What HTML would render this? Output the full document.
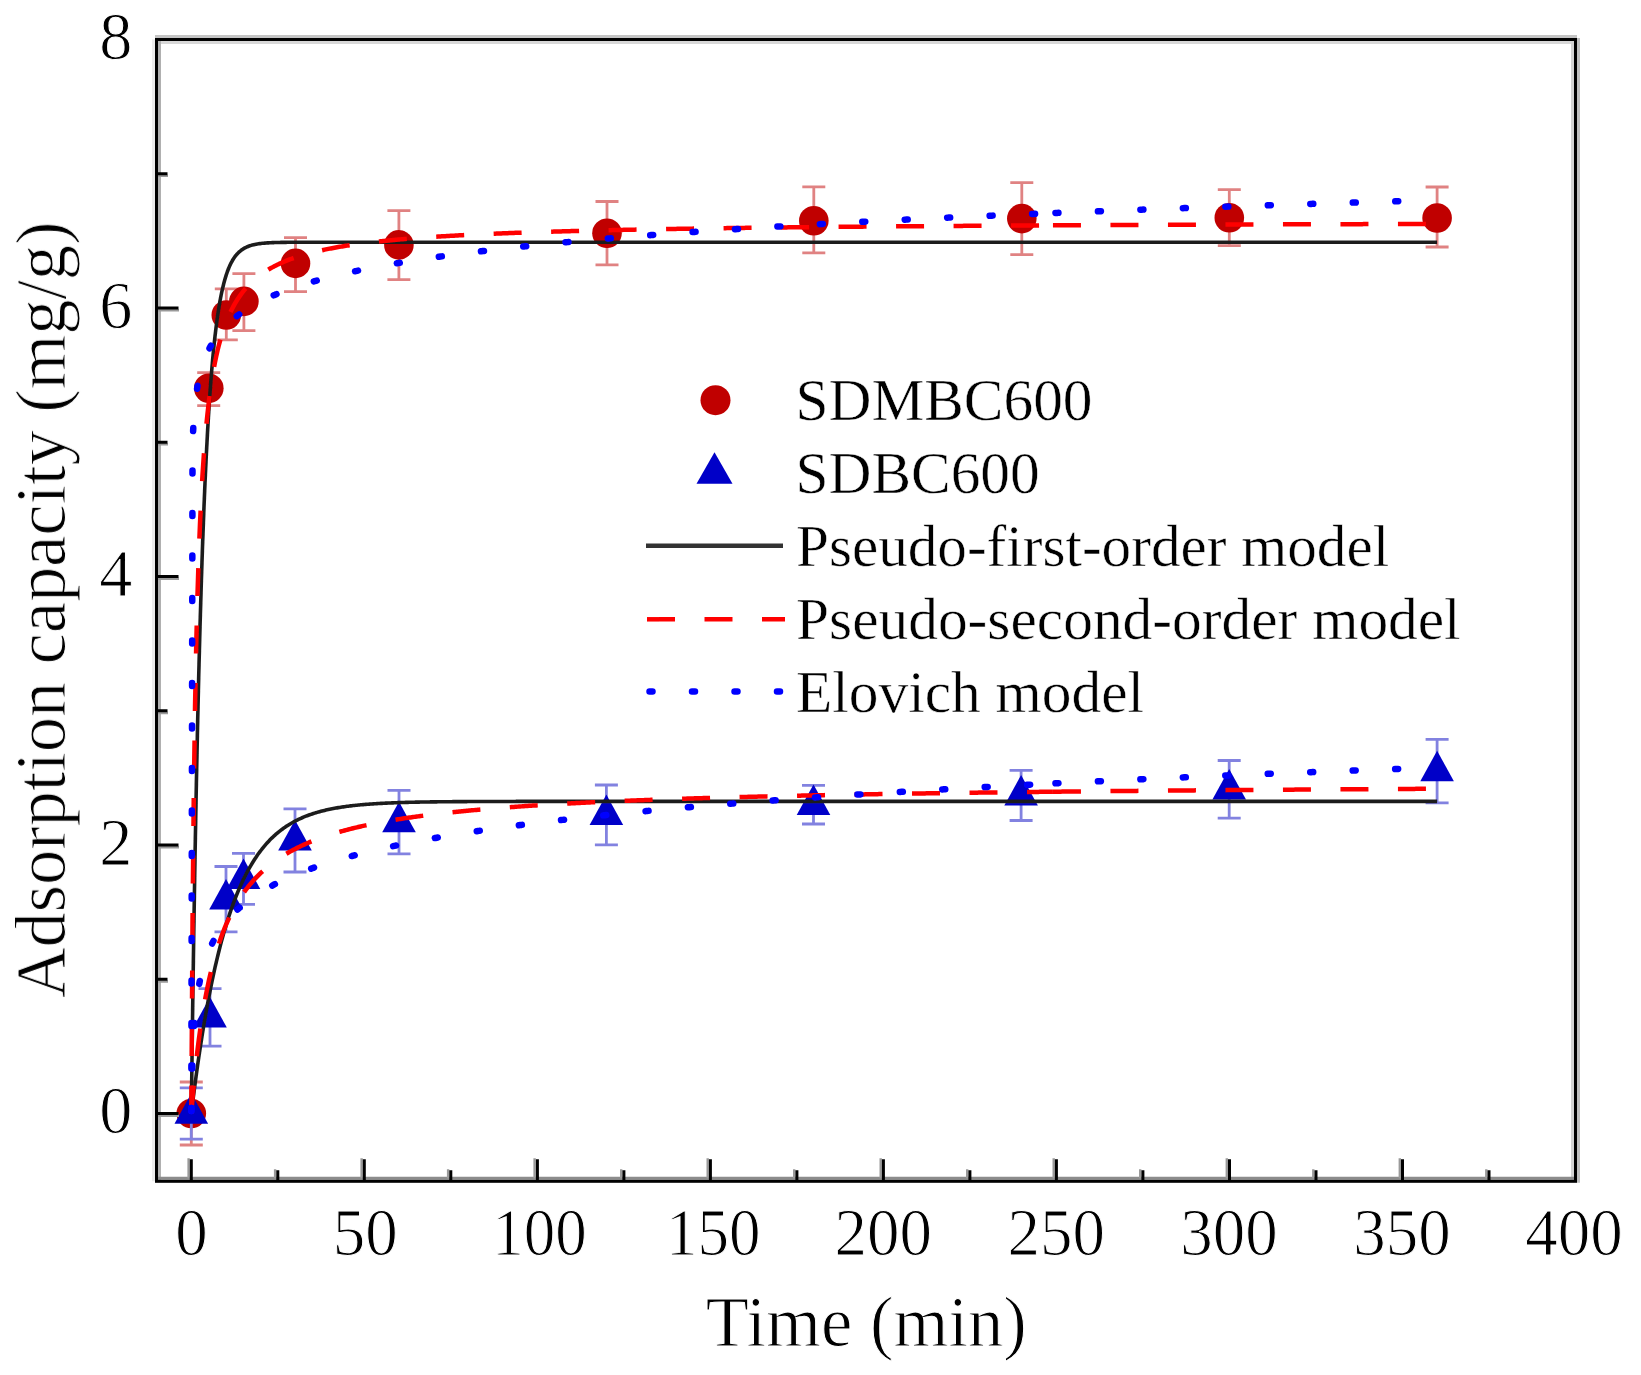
<!DOCTYPE html>
<html><head><meta charset="utf-8"><title>Adsorption kinetics</title>
<style>html,body{margin:0;padding:0;background:#fff;overflow:hidden;}svg{display:block;}</style>
</head><body>
<svg width="1641" height="1375" viewBox="0 0 1641 1375">
<rect width="1641" height="1375" fill="#fff"/>
<defs><filter id="b" x="0" y="0" width="100%" height="100%" filterUnits="userSpaceOnUse"><feGaussianBlur stdDeviation="0.7"/></filter></defs><g filter="url(#b)">
<path d="M191.3 1082.0V1145.0M179.8 1082.0H202.8M179.8 1145.0H202.8" stroke="#e08282" stroke-width="2.8" fill="none"/>
<path d="M208.8 372.7V405.7M197.2 372.7H220.2M197.2 405.7H220.2" stroke="#e08282" stroke-width="2.8" fill="none"/>
<path d="M226.3 288.8V339.8M214.8 288.8H237.8M214.8 339.8H237.8" stroke="#e08282" stroke-width="2.8" fill="none"/>
<path d="M243.9 273.7V330.7M232.4 273.7H255.4M232.4 330.7H255.4" stroke="#e08282" stroke-width="2.8" fill="none"/>
<path d="M295.5 237.6V291.6M284.0 237.6H307.0M284.0 291.6H307.0" stroke="#e08282" stroke-width="2.8" fill="none"/>
<path d="M398.9 210.7V279.7M387.4 210.7H410.4M387.4 279.7H410.4" stroke="#e08282" stroke-width="2.8" fill="none"/>
<path d="M607.0 201.5V264.9M595.5 201.5H618.5M595.5 264.9H618.5" stroke="#e08282" stroke-width="2.8" fill="none"/>
<path d="M813.8 186.8V252.8M802.3 186.8H825.3M802.3 252.8H825.3" stroke="#e08282" stroke-width="2.8" fill="none"/>
<path d="M1021.8 182.6V254.6M1010.3 182.6H1033.3M1010.3 254.6H1033.3" stroke="#e08282" stroke-width="2.8" fill="none"/>
<path d="M1229.3 189.6V245.6M1217.8 189.6H1240.8M1217.8 245.6H1240.8" stroke="#e08282" stroke-width="2.8" fill="none"/>
<path d="M1437.1 187.0V247.0M1425.6 187.0H1448.6M1425.6 247.0H1448.6" stroke="#e08282" stroke-width="2.8" fill="none"/>
<circle cx="191.3" cy="1113.5" r="14.8" fill="#c00000"/>
<circle cx="208.8" cy="388.2" r="14.8" fill="#c00000"/>
<circle cx="226.3" cy="315.0" r="14.8" fill="#c00000"/>
<circle cx="243.9" cy="301.4" r="14.8" fill="#c00000"/>
<circle cx="295.5" cy="263.4" r="14.8" fill="#c00000"/>
<circle cx="398.9" cy="244.9" r="14.8" fill="#c00000"/>
<circle cx="607.0" cy="233.2" r="14.8" fill="#c00000"/>
<circle cx="813.8" cy="220.8" r="14.8" fill="#c00000"/>
<circle cx="1021.8" cy="218.6" r="14.8" fill="#c00000"/>
<circle cx="1229.3" cy="217.7" r="14.8" fill="#c00000"/>
<circle cx="1437.1" cy="218.0" r="14.8" fill="#c00000"/>
<path d="M191.3 1087.9V1139.1M179.8 1087.9H202.8M179.8 1139.1H202.8" stroke="#8282e0" stroke-width="2.8" fill="none"/>
<path d="M210.0 988.6V1046.2M198.5 988.6H221.5M198.5 1046.2H221.5" stroke="#8282e0" stroke-width="2.8" fill="none"/>
<path d="M226.0 866.5V931.9M214.5 866.5H237.5M214.5 931.9H237.5" stroke="#8282e0" stroke-width="2.8" fill="none"/>
<path d="M243.5 853.4V904.4M232.0 853.4H255.0M232.0 904.4H255.0" stroke="#8282e0" stroke-width="2.8" fill="none"/>
<path d="M295.0 808.8V872.0M283.5 808.8H306.5M283.5 872.0H306.5" stroke="#8282e0" stroke-width="2.8" fill="none"/>
<path d="M399.0 790.4V853.8M387.5 790.4H410.5M387.5 853.8H410.5" stroke="#8282e0" stroke-width="2.8" fill="none"/>
<path d="M606.4 785.0V844.8M594.9 785.0H617.9M594.9 844.8H617.9" stroke="#8282e0" stroke-width="2.8" fill="none"/>
<path d="M813.5 785.4V824.0M802.0 785.4H825.0M802.0 824.0H825.0" stroke="#8282e0" stroke-width="2.8" fill="none"/>
<path d="M1021.1 770.3V820.5M1009.6 770.3H1032.6M1009.6 820.5H1032.6" stroke="#8282e0" stroke-width="2.8" fill="none"/>
<path d="M1229.2 760.5V818.1M1217.7 760.5H1240.7M1217.7 818.1H1240.7" stroke="#8282e0" stroke-width="2.8" fill="none"/>
<path d="M1437.1 739.3V802.9M1425.6 739.3H1448.6M1425.6 802.9H1448.6" stroke="#8282e0" stroke-width="2.8" fill="none"/>
<path d="M191.3 1093.2L208.1 1123.7L174.5 1123.7Z" fill="#0000c8"/>
<path d="M210.0 997.1L226.8 1027.6L193.2 1027.6Z" fill="#0000c8"/>
<path d="M226.0 878.9L242.8 909.4L209.2 909.4Z" fill="#0000c8"/>
<path d="M243.5 858.6L260.3 889.1L226.7 889.1Z" fill="#0000c8"/>
<path d="M295.0 820.1L311.8 850.6L278.2 850.6Z" fill="#0000c8"/>
<path d="M399.0 801.8L415.8 832.3L382.2 832.3Z" fill="#0000c8"/>
<path d="M606.4 794.6L623.2 825.1L589.6 825.1Z" fill="#0000c8"/>
<path d="M813.5 784.4L830.3 814.9L796.7 814.9Z" fill="#0000c8"/>
<path d="M1021.1 775.1L1037.9 805.6L1004.3 805.6Z" fill="#0000c8"/>
<path d="M1229.2 769.0L1246.0 799.5L1212.4 799.5Z" fill="#0000c8"/>
<path d="M1437.1 750.8L1453.9 781.3L1420.3 781.3Z" fill="#0000c8"/>
<path d="M191.30 1113.50 L192.55 1017.30 L193.79 931.72 L195.04 855.59 L196.28 787.86 L197.53 727.61 L198.77 674.02 L200.02 626.34 L201.27 583.93 L202.51 546.20 L203.76 512.63 L205.00 482.78 L206.25 456.22 L207.50 432.59 L208.74 411.57 L209.99 392.87 L211.23 376.23 L212.48 361.44 L213.72 348.27 L214.97 336.56 L216.22 326.15 L217.46 316.88 L218.71 308.64 L219.95 301.30 L221.20 294.78 L222.44 288.97 L223.69 283.81 L224.94 279.22 L226.18 275.13 L227.43 271.50 L228.67 268.27 L229.92 265.39 L231.16 262.83 L232.41 260.56 L233.66 258.53 L234.90 256.73 L236.15 255.13 L237.39 253.70 L238.64 252.43 L239.89 251.31 L241.13 250.30 L242.38 249.41 L243.62 248.62 L244.87 247.91 L246.11 247.28 L247.36 246.72 L248.61 246.22 L249.85 245.78 L251.10 245.39 L252.34 245.04 L253.59 244.73 L254.83 244.45 L256.08 244.20 L257.33 243.98 L258.57 243.79 L259.82 243.62 L261.06 243.46 L262.31 243.32 L263.56 243.20 L264.80 243.09 L266.05 243.00 L267.29 242.91 L268.54 242.83 L269.78 242.77 L271.03 242.71 L272.28 242.65 L273.52 242.60 L274.77 242.56 L276.01 242.52 L277.26 242.49 L278.50 242.46 L279.75 242.43 L281.00 242.41 L282.24 242.39 L283.49 242.37 L284.73 242.35 L285.98 242.34 L287.23 242.32 L288.47 242.31 L289.72 242.30 L290.96 242.29 L292.21 242.28 L293.45 242.28 L294.70 242.27 L295.95 242.26 L297.19 242.26 L298.44 242.25 L299.68 242.25 L300.93 242.25 L302.17 242.24 L303.42 242.24 L304.67 242.24 L305.91 242.24 L307.16 242.23 L308.40 242.23 L309.65 242.23 L310.89 242.23 L312.14 242.23 L313.39 242.23 L314.63 242.23 L315.88 242.22 L317.12 242.22 L318.37 242.22 L319.62 242.22 L320.86 242.22 L322.11 242.22 L323.35 242.22 L324.60 242.22 L325.84 242.22 L327.09 242.22 L328.34 242.22 L329.58 242.22 L330.83 242.22 L332.07 242.22 L333.32 242.22 L334.56 242.22 L335.81 242.22 L337.06 242.22 L338.30 242.22 L339.55 242.22 L340.79 242.22 L342.04 242.22 L343.29 242.22 L344.53 242.22 L345.78 242.22 L347.02 242.22 L348.27 242.22 L349.51 242.22 L350.76 242.22 L352.01 242.22 L353.25 242.22 L354.50 242.22 L355.74 242.22 L356.99 242.22 L358.23 242.22 L359.48 242.22 L360.73 242.22 L361.97 242.22 L363.22 242.22 L364.46 242.22 L365.71 242.22 L366.95 242.22 L368.20 242.22 L369.45 242.22 L370.69 242.22 L371.94 242.22 L373.18 242.22 L374.43 242.22 L375.68 242.22 L376.92 242.22 L378.17 242.22 L379.41 242.22 L380.66 242.22 L381.90 242.22 L383.15 242.22 L384.40 242.22 L385.64 242.22 L386.89 242.22 L388.13 242.22 L389.38 242.22 L390.62 242.22 L391.87 242.22 L393.12 242.22 L394.36 242.22 L395.61 242.22 L396.85 242.22 L398.10 242.22 L399.35 242.22 L400.59 242.22 L401.84 242.22 L403.08 242.22 L404.33 242.22 L405.57 242.22 L406.82 242.22 L408.07 242.22 L409.31 242.22 L410.56 242.22 L411.80 242.22 L413.05 242.22 L414.29 242.22 L415.54 242.22 L416.79 242.22 L418.03 242.22 L419.28 242.22 L420.52 242.22 L421.77 242.22 L423.02 242.22 L424.26 242.22 L425.51 242.22 L426.75 242.22 L428.00 242.22 L429.24 242.22 L430.49 242.22 L431.74 242.22 L432.98 242.22 L434.23 242.22 L435.47 242.22 L436.72 242.22 L437.96 242.22 L439.21 242.22 L440.46 242.22 L441.70 242.22 L442.95 242.22 L444.19 242.22 L445.44 242.22 L446.68 242.22 L447.93 242.22 L449.18 242.22 L450.42 242.22 L451.67 242.22 L452.91 242.22 L454.16 242.22 L455.41 242.22 L456.65 242.22 L457.90 242.22 L459.14 242.22 L460.39 242.22 L461.63 242.22 L462.88 242.22 L464.13 242.22 L465.37 242.22 L466.62 242.22 L467.86 242.22 L469.11 242.22 L470.35 242.22 L471.60 242.22 L472.85 242.22 L474.09 242.22 L475.34 242.22 L476.58 242.22 L477.83 242.22 L479.08 242.22 L480.32 242.22 L481.57 242.22 L482.81 242.22 L484.06 242.22 L485.30 242.22 L486.55 242.22 L487.80 242.22 L489.04 242.22 L490.29 242.22 L491.53 242.22 L492.78 242.22 L494.02 242.22 L495.27 242.22 L496.52 242.22 L497.76 242.22 L499.01 242.22 L500.25 242.22 L501.50 242.22 L502.75 242.22 L503.99 242.22 L505.24 242.22 L506.48 242.22 L507.73 242.22 L508.97 242.22 L510.22 242.22 L511.47 242.22 L512.71 242.22 L513.96 242.22 L515.20 242.22 L516.45 242.22 L517.69 242.22 L518.94 242.22 L520.19 242.22 L521.43 242.22 L522.68 242.22 L523.92 242.22 L525.17 242.22 L526.41 242.22 L527.66 242.22 L528.91 242.22 L530.15 242.22 L531.40 242.22 L532.64 242.22 L533.89 242.22 L535.14 242.22 L536.38 242.22 L537.63 242.22 L538.87 242.22 L540.12 242.22 L541.36 242.22 L542.61 242.22 L543.86 242.22 L545.10 242.22 L546.35 242.22 L547.59 242.22 L548.84 242.22 L550.08 242.22 L551.33 242.22 L552.58 242.22 L553.82 242.22 L555.07 242.22 L556.31 242.22 L557.56 242.22 L558.81 242.22 L560.05 242.22 L561.30 242.22 L562.54 242.22 L563.79 242.22 L565.03 242.22 L566.28 242.22 L567.53 242.22 L568.77 242.22 L570.02 242.22 L571.26 242.22 L572.51 242.22 L573.75 242.22 L575.00 242.22 L576.25 242.22 L577.49 242.22 L578.74 242.22 L579.98 242.22 L581.23 242.22 L582.47 242.22 L583.72 242.22 L584.97 242.22 L586.21 242.22 L587.46 242.22 L588.70 242.22 L589.95 242.22 L591.20 242.22 L592.44 242.22 L593.69 242.22 L594.93 242.22 L596.18 242.22 L597.42 242.22 L598.67 242.22 L599.92 242.22 L601.16 242.22 L602.41 242.22 L603.65 242.22 L604.90 242.22 L606.14 242.22 L607.39 242.22 L608.64 242.22 L609.88 242.22 L611.13 242.22 L612.37 242.22 L613.62 242.22 L614.87 242.22 L616.11 242.22 L617.36 242.22 L618.60 242.22 L619.85 242.22 L621.09 242.22 L622.34 242.22 L623.59 242.22 L624.83 242.22 L626.08 242.22 L627.32 242.22 L628.57 242.22 L629.81 242.22 L631.06 242.22 L632.31 242.22 L633.55 242.22 L634.80 242.22 L636.04 242.22 L637.29 242.22 L638.54 242.22 L639.78 242.22 L641.03 242.22 L642.27 242.22 L643.52 242.22 L644.76 242.22 L646.01 242.22 L647.26 242.22 L648.50 242.22 L649.75 242.22 L650.99 242.22 L652.24 242.22 L653.48 242.22 L654.73 242.22 L655.98 242.22 L657.22 242.22 L658.47 242.22 L659.71 242.22 L660.96 242.22 L662.20 242.22 L663.45 242.22 L664.70 242.22 L665.94 242.22 L667.19 242.22 L668.43 242.22 L669.68 242.22 L670.93 242.22 L672.17 242.22 L673.42 242.22 L674.66 242.22 L675.91 242.22 L677.15 242.22 L678.40 242.22 L679.65 242.22 L680.89 242.22 L682.14 242.22 L683.38 242.22 L684.63 242.22 L685.87 242.22 L687.12 242.22 L688.37 242.22 L689.61 242.22 L690.86 242.22 L692.10 242.22 L693.35 242.22 L694.60 242.22 L695.84 242.22 L697.09 242.22 L698.33 242.22 L699.58 242.22 L700.82 242.22 L702.07 242.22 L703.32 242.22 L704.56 242.22 L705.81 242.22 L707.05 242.22 L708.30 242.22 L709.54 242.22 L710.79 242.22 L712.04 242.22 L713.28 242.22 L714.53 242.22 L715.77 242.22 L717.02 242.22 L718.26 242.22 L719.51 242.22 L720.76 242.22 L722.00 242.22 L723.25 242.22 L724.49 242.22 L725.74 242.22 L726.99 242.22 L728.23 242.22 L729.48 242.22 L730.72 242.22 L731.97 242.22 L733.21 242.22 L734.46 242.22 L735.71 242.22 L736.95 242.22 L738.20 242.22 L739.44 242.22 L740.69 242.22 L741.93 242.22 L743.18 242.22 L744.43 242.22 L745.67 242.22 L746.92 242.22 L748.16 242.22 L749.41 242.22 L750.66 242.22 L751.90 242.22 L753.15 242.22 L754.39 242.22 L755.64 242.22 L756.88 242.22 L758.13 242.22 L759.38 242.22 L760.62 242.22 L761.87 242.22 L763.11 242.22 L764.36 242.22 L765.60 242.22 L766.85 242.22 L768.10 242.22 L769.34 242.22 L770.59 242.22 L771.83 242.22 L773.08 242.22 L774.33 242.22 L775.57 242.22 L776.82 242.22 L778.06 242.22 L779.31 242.22 L780.55 242.22 L781.80 242.22 L783.05 242.22 L784.29 242.22 L785.54 242.22 L786.78 242.22 L788.03 242.22 L789.27 242.22 L790.52 242.22 L791.77 242.22 L793.01 242.22 L794.26 242.22 L795.50 242.22 L796.75 242.22 L797.99 242.22 L799.24 242.22 L800.49 242.22 L801.73 242.22 L802.98 242.22 L804.22 242.22 L805.47 242.22 L806.72 242.22 L807.96 242.22 L809.21 242.22 L810.45 242.22 L811.70 242.22 L812.94 242.22 L814.19 242.22 L815.44 242.22 L816.68 242.22 L817.93 242.22 L819.17 242.22 L820.42 242.22 L821.66 242.22 L822.91 242.22 L824.16 242.22 L825.40 242.22 L826.65 242.22 L827.89 242.22 L829.14 242.22 L830.39 242.22 L831.63 242.22 L832.88 242.22 L834.12 242.22 L835.37 242.22 L836.61 242.22 L837.86 242.22 L839.11 242.22 L840.35 242.22 L841.60 242.22 L842.84 242.22 L844.09 242.22 L845.33 242.22 L846.58 242.22 L847.83 242.22 L849.07 242.22 L850.32 242.22 L851.56 242.22 L852.81 242.22 L854.05 242.22 L855.30 242.22 L856.55 242.22 L857.79 242.22 L859.04 242.22 L860.28 242.22 L861.53 242.22 L862.78 242.22 L864.02 242.22 L865.27 242.22 L866.51 242.22 L867.76 242.22 L869.00 242.22 L870.25 242.22 L871.50 242.22 L872.74 242.22 L873.99 242.22 L875.23 242.22 L876.48 242.22 L877.72 242.22 L878.97 242.22 L880.22 242.22 L881.46 242.22 L882.71 242.22 L883.95 242.22 L885.20 242.22 L886.45 242.22 L887.69 242.22 L888.94 242.22 L890.18 242.22 L891.43 242.22 L892.67 242.22 L893.92 242.22 L895.17 242.22 L896.41 242.22 L897.66 242.22 L898.90 242.22 L900.15 242.22 L901.39 242.22 L902.64 242.22 L903.89 242.22 L905.13 242.22 L906.38 242.22 L907.62 242.22 L908.87 242.22 L910.12 242.22 L911.36 242.22 L912.61 242.22 L913.85 242.22 L915.10 242.22 L916.34 242.22 L917.59 242.22 L918.84 242.22 L920.08 242.22 L921.33 242.22 L922.57 242.22 L923.82 242.22 L925.06 242.22 L926.31 242.22 L927.56 242.22 L928.80 242.22 L930.05 242.22 L931.29 242.22 L932.54 242.22 L933.78 242.22 L935.03 242.22 L936.28 242.22 L937.52 242.22 L938.77 242.22 L940.01 242.22 L941.26 242.22 L942.51 242.22 L943.75 242.22 L945.00 242.22 L946.24 242.22 L947.49 242.22 L948.73 242.22 L949.98 242.22 L951.23 242.22 L952.47 242.22 L953.72 242.22 L954.96 242.22 L956.21 242.22 L957.45 242.22 L958.70 242.22 L959.95 242.22 L961.19 242.22 L962.44 242.22 L963.68 242.22 L964.93 242.22 L966.18 242.22 L967.42 242.22 L968.67 242.22 L969.91 242.22 L971.16 242.22 L972.40 242.22 L973.65 242.22 L974.90 242.22 L976.14 242.22 L977.39 242.22 L978.63 242.22 L979.88 242.22 L981.12 242.22 L982.37 242.22 L983.62 242.22 L984.86 242.22 L986.11 242.22 L987.35 242.22 L988.60 242.22 L989.84 242.22 L991.09 242.22 L992.34 242.22 L993.58 242.22 L994.83 242.22 L996.07 242.22 L997.32 242.22 L998.57 242.22 L999.81 242.22 L1001.06 242.22 L1002.30 242.22 L1003.55 242.22 L1004.79 242.22 L1006.04 242.22 L1007.29 242.22 L1008.53 242.22 L1009.78 242.22 L1011.02 242.22 L1012.27 242.22 L1013.51 242.22 L1014.76 242.22 L1016.01 242.22 L1017.25 242.22 L1018.50 242.22 L1019.74 242.22 L1020.99 242.22 L1022.24 242.22 L1023.48 242.22 L1024.73 242.22 L1025.97 242.22 L1027.22 242.22 L1028.46 242.22 L1029.71 242.22 L1030.96 242.22 L1032.20 242.22 L1033.45 242.22 L1034.69 242.22 L1035.94 242.22 L1037.18 242.22 L1038.43 242.22 L1039.68 242.22 L1040.92 242.22 L1042.17 242.22 L1043.41 242.22 L1044.66 242.22 L1045.91 242.22 L1047.15 242.22 L1048.40 242.22 L1049.64 242.22 L1050.89 242.22 L1052.13 242.22 L1053.38 242.22 L1054.63 242.22 L1055.87 242.22 L1057.12 242.22 L1058.36 242.22 L1059.61 242.22 L1060.85 242.22 L1062.10 242.22 L1063.35 242.22 L1064.59 242.22 L1065.84 242.22 L1067.08 242.22 L1068.33 242.22 L1069.57 242.22 L1070.82 242.22 L1072.07 242.22 L1073.31 242.22 L1074.56 242.22 L1075.80 242.22 L1077.05 242.22 L1078.30 242.22 L1079.54 242.22 L1080.79 242.22 L1082.03 242.22 L1083.28 242.22 L1084.52 242.22 L1085.77 242.22 L1087.02 242.22 L1088.26 242.22 L1089.51 242.22 L1090.75 242.22 L1092.00 242.22 L1093.24 242.22 L1094.49 242.22 L1095.74 242.22 L1096.98 242.22 L1098.23 242.22 L1099.47 242.22 L1100.72 242.22 L1101.97 242.22 L1103.21 242.22 L1104.46 242.22 L1105.70 242.22 L1106.95 242.22 L1108.19 242.22 L1109.44 242.22 L1110.69 242.22 L1111.93 242.22 L1113.18 242.22 L1114.42 242.22 L1115.67 242.22 L1116.91 242.22 L1118.16 242.22 L1119.41 242.22 L1120.65 242.22 L1121.90 242.22 L1123.14 242.22 L1124.39 242.22 L1125.63 242.22 L1126.88 242.22 L1128.13 242.22 L1129.37 242.22 L1130.62 242.22 L1131.86 242.22 L1133.11 242.22 L1134.36 242.22 L1135.60 242.22 L1136.85 242.22 L1138.09 242.22 L1139.34 242.22 L1140.58 242.22 L1141.83 242.22 L1143.08 242.22 L1144.32 242.22 L1145.57 242.22 L1146.81 242.22 L1148.06 242.22 L1149.30 242.22 L1150.55 242.22 L1151.80 242.22 L1153.04 242.22 L1154.29 242.22 L1155.53 242.22 L1156.78 242.22 L1158.03 242.22 L1159.27 242.22 L1160.52 242.22 L1161.76 242.22 L1163.01 242.22 L1164.25 242.22 L1165.50 242.22 L1166.75 242.22 L1167.99 242.22 L1169.24 242.22 L1170.48 242.22 L1171.73 242.22 L1172.97 242.22 L1174.22 242.22 L1175.47 242.22 L1176.71 242.22 L1177.96 242.22 L1179.20 242.22 L1180.45 242.22 L1181.70 242.22 L1182.94 242.22 L1184.19 242.22 L1185.43 242.22 L1186.68 242.22 L1187.92 242.22 L1189.17 242.22 L1190.42 242.22 L1191.66 242.22 L1192.91 242.22 L1194.15 242.22 L1195.40 242.22 L1196.64 242.22 L1197.89 242.22 L1199.14 242.22 L1200.38 242.22 L1201.63 242.22 L1202.87 242.22 L1204.12 242.22 L1205.36 242.22 L1206.61 242.22 L1207.86 242.22 L1209.10 242.22 L1210.35 242.22 L1211.59 242.22 L1212.84 242.22 L1214.09 242.22 L1215.33 242.22 L1216.58 242.22 L1217.82 242.22 L1219.07 242.22 L1220.31 242.22 L1221.56 242.22 L1222.81 242.22 L1224.05 242.22 L1225.30 242.22 L1226.54 242.22 L1227.79 242.22 L1229.03 242.22 L1230.28 242.22 L1231.53 242.22 L1232.77 242.22 L1234.02 242.22 L1235.26 242.22 L1236.51 242.22 L1237.76 242.22 L1239.00 242.22 L1240.25 242.22 L1241.49 242.22 L1242.74 242.22 L1243.98 242.22 L1245.23 242.22 L1246.48 242.22 L1247.72 242.22 L1248.97 242.22 L1250.21 242.22 L1251.46 242.22 L1252.70 242.22 L1253.95 242.22 L1255.20 242.22 L1256.44 242.22 L1257.69 242.22 L1258.93 242.22 L1260.18 242.22 L1261.43 242.22 L1262.67 242.22 L1263.92 242.22 L1265.16 242.22 L1266.41 242.22 L1267.65 242.22 L1268.90 242.22 L1270.15 242.22 L1271.39 242.22 L1272.64 242.22 L1273.88 242.22 L1275.13 242.22 L1276.37 242.22 L1277.62 242.22 L1278.87 242.22 L1280.11 242.22 L1281.36 242.22 L1282.60 242.22 L1283.85 242.22 L1285.09 242.22 L1286.34 242.22 L1287.59 242.22 L1288.83 242.22 L1290.08 242.22 L1291.32 242.22 L1292.57 242.22 L1293.82 242.22 L1295.06 242.22 L1296.31 242.22 L1297.55 242.22 L1298.80 242.22 L1300.04 242.22 L1301.29 242.22 L1302.54 242.22 L1303.78 242.22 L1305.03 242.22 L1306.27 242.22 L1307.52 242.22 L1308.76 242.22 L1310.01 242.22 L1311.26 242.22 L1312.50 242.22 L1313.75 242.22 L1314.99 242.22 L1316.24 242.22 L1317.49 242.22 L1318.73 242.22 L1319.98 242.22 L1321.22 242.22 L1322.47 242.22 L1323.71 242.22 L1324.96 242.22 L1326.21 242.22 L1327.45 242.22 L1328.70 242.22 L1329.94 242.22 L1331.19 242.22 L1332.43 242.22 L1333.68 242.22 L1334.93 242.22 L1336.17 242.22 L1337.42 242.22 L1338.66 242.22 L1339.91 242.22 L1341.15 242.22 L1342.40 242.22 L1343.65 242.22 L1344.89 242.22 L1346.14 242.22 L1347.38 242.22 L1348.63 242.22 L1349.88 242.22 L1351.12 242.22 L1352.37 242.22 L1353.61 242.22 L1354.86 242.22 L1356.10 242.22 L1357.35 242.22 L1358.60 242.22 L1359.84 242.22 L1361.09 242.22 L1362.33 242.22 L1363.58 242.22 L1364.82 242.22 L1366.07 242.22 L1367.32 242.22 L1368.56 242.22 L1369.81 242.22 L1371.05 242.22 L1372.30 242.22 L1373.55 242.22 L1374.79 242.22 L1376.04 242.22 L1377.28 242.22 L1378.53 242.22 L1379.77 242.22 L1381.02 242.22 L1382.27 242.22 L1383.51 242.22 L1384.76 242.22 L1386.00 242.22 L1387.25 242.22 L1388.49 242.22 L1389.74 242.22 L1390.99 242.22 L1392.23 242.22 L1393.48 242.22 L1394.72 242.22 L1395.97 242.22 L1397.22 242.22 L1398.46 242.22 L1399.71 242.22 L1400.95 242.22 L1402.20 242.22 L1403.44 242.22 L1404.69 242.22 L1405.94 242.22 L1407.18 242.22 L1408.43 242.22 L1409.67 242.22 L1410.92 242.22 L1412.16 242.22 L1413.41 242.22 L1414.66 242.22 L1415.90 242.22 L1417.15 242.22 L1418.39 242.22 L1419.64 242.22 L1420.88 242.22 L1422.13 242.22 L1423.38 242.22 L1424.62 242.22 L1425.87 242.22 L1427.11 242.22 L1428.36 242.22 L1429.61 242.22 L1430.85 242.22 L1432.10 242.22 L1433.34 242.22 L1434.59 242.22 L1435.83 242.22 L1437.08 242.22" stroke="#1e1e1e" stroke-width="3.6" fill="none" stroke-linejoin="round"/>
<path d="M191.30 1113.50 L192.55 1103.33 L193.79 1093.49 L195.04 1083.98 L196.28 1074.77 L197.53 1065.86 L198.77 1057.25 L200.02 1048.91 L201.27 1040.85 L202.51 1033.05 L203.76 1025.50 L205.00 1018.20 L206.25 1011.13 L207.50 1004.30 L208.74 997.69 L209.99 991.29 L211.23 985.11 L212.48 979.12 L213.72 973.33 L214.97 967.73 L216.22 962.31 L217.46 957.06 L218.71 951.99 L219.95 947.09 L221.20 942.34 L222.44 937.75 L223.69 933.30 L224.94 929.00 L226.18 924.85 L227.43 920.82 L228.67 916.93 L229.92 913.17 L231.16 909.53 L232.41 906.00 L233.66 902.59 L234.90 899.30 L236.15 896.11 L237.39 893.02 L238.64 890.03 L239.89 887.15 L241.13 884.35 L242.38 881.65 L243.62 879.03 L244.87 876.50 L246.11 874.05 L247.36 871.69 L248.61 869.40 L249.85 867.18 L251.10 865.04 L252.34 862.96 L253.59 860.95 L254.83 859.01 L256.08 857.14 L257.33 855.32 L258.57 853.56 L259.82 851.86 L261.06 850.22 L262.31 848.62 L263.56 847.09 L264.80 845.60 L266.05 844.16 L267.29 842.76 L268.54 841.41 L269.78 840.11 L271.03 838.85 L272.28 837.63 L273.52 836.44 L274.77 835.30 L276.01 834.20 L277.26 833.13 L278.50 832.09 L279.75 831.09 L281.00 830.12 L282.24 829.19 L283.49 828.28 L284.73 827.40 L285.98 826.56 L287.23 825.73 L288.47 824.94 L289.72 824.17 L290.96 823.43 L292.21 822.71 L293.45 822.02 L294.70 821.34 L295.95 820.69 L297.19 820.06 L298.44 819.45 L299.68 818.86 L300.93 818.29 L302.17 817.74 L303.42 817.21 L304.67 816.69 L305.91 816.19 L307.16 815.71 L308.40 815.24 L309.65 814.79 L310.89 814.36 L312.14 813.93 L313.39 813.52 L314.63 813.13 L315.88 812.74 L317.12 812.37 L318.37 812.01 L319.62 811.67 L320.86 811.33 L322.11 811.01 L323.35 810.69 L324.60 810.39 L325.84 810.10 L327.09 809.81 L328.34 809.54 L329.58 809.27 L330.83 809.01 L332.07 808.76 L333.32 808.52 L334.56 808.29 L335.81 808.06 L337.06 807.85 L338.30 807.64 L339.55 807.43 L340.79 807.23 L342.04 807.04 L343.29 806.86 L344.53 806.68 L345.78 806.51 L347.02 806.34 L348.27 806.18 L349.51 806.02 L350.76 805.87 L352.01 805.72 L353.25 805.58 L354.50 805.44 L355.74 805.31 L356.99 805.18 L358.23 805.06 L359.48 804.94 L360.73 804.82 L361.97 804.71 L363.22 804.60 L364.46 804.49 L365.71 804.39 L366.95 804.29 L368.20 804.20 L369.45 804.11 L370.69 804.02 L371.94 803.93 L373.18 803.85 L374.43 803.77 L375.68 803.69 L376.92 803.61 L378.17 803.54 L379.41 803.47 L380.66 803.40 L381.90 803.33 L383.15 803.27 L384.40 803.21 L385.64 803.15 L386.89 803.09 L388.13 803.03 L389.38 802.98 L390.62 802.93 L391.87 802.88 L393.12 802.83 L394.36 802.78 L395.61 802.73 L396.85 802.69 L398.10 802.65 L399.35 802.61 L400.59 802.57 L401.84 802.53 L403.08 802.49 L404.33 802.45 L405.57 802.42 L406.82 802.38 L408.07 802.35 L409.31 802.32 L410.56 802.29 L411.80 802.26 L413.05 802.23 L414.29 802.20 L415.54 802.17 L416.79 802.15 L418.03 802.12 L419.28 802.10 L420.52 802.07 L421.77 802.05 L423.02 802.03 L424.26 802.01 L425.51 801.99 L426.75 801.97 L428.00 801.95 L429.24 801.93 L430.49 801.91 L431.74 801.89 L432.98 801.87 L434.23 801.86 L435.47 801.84 L436.72 801.83 L437.96 801.81 L439.21 801.80 L440.46 801.78 L441.70 801.77 L442.95 801.76 L444.19 801.74 L445.44 801.73 L446.68 801.72 L447.93 801.71 L449.18 801.70 L450.42 801.69 L451.67 801.68 L452.91 801.67 L454.16 801.66 L455.41 801.65 L456.65 801.64 L457.90 801.63 L459.14 801.62 L460.39 801.61 L461.63 801.60 L462.88 801.60 L464.13 801.59 L465.37 801.58 L466.62 801.58 L467.86 801.57 L469.11 801.56 L470.35 801.56 L471.60 801.55 L472.85 801.54 L474.09 801.54 L475.34 801.53 L476.58 801.53 L477.83 801.52 L479.08 801.52 L480.32 801.51 L481.57 801.51 L482.81 801.50 L484.06 801.50 L485.30 801.49 L486.55 801.49 L487.80 801.49 L489.04 801.48 L490.29 801.48 L491.53 801.48 L492.78 801.47 L494.02 801.47 L495.27 801.47 L496.52 801.46 L497.76 801.46 L499.01 801.46 L500.25 801.45 L501.50 801.45 L502.75 801.45 L503.99 801.45 L505.24 801.44 L506.48 801.44 L507.73 801.44 L508.97 801.44 L510.22 801.43 L511.47 801.43 L512.71 801.43 L513.96 801.43 L515.20 801.43 L516.45 801.42 L517.69 801.42 L518.94 801.42 L520.19 801.42 L521.43 801.42 L522.68 801.42 L523.92 801.41 L525.17 801.41 L526.41 801.41 L527.66 801.41 L528.91 801.41 L530.15 801.41 L531.40 801.41 L532.64 801.40 L533.89 801.40 L535.14 801.40 L536.38 801.40 L537.63 801.40 L538.87 801.40 L540.12 801.40 L541.36 801.40 L542.61 801.40 L543.86 801.40 L545.10 801.39 L546.35 801.39 L547.59 801.39 L548.84 801.39 L550.08 801.39 L551.33 801.39 L552.58 801.39 L553.82 801.39 L555.07 801.39 L556.31 801.39 L557.56 801.39 L558.81 801.39 L560.05 801.39 L561.30 801.39 L562.54 801.38 L563.79 801.38 L565.03 801.38 L566.28 801.38 L567.53 801.38 L568.77 801.38 L570.02 801.38 L571.26 801.38 L572.51 801.38 L573.75 801.38 L575.00 801.38 L576.25 801.38 L577.49 801.38 L578.74 801.38 L579.98 801.38 L581.23 801.38 L582.47 801.38 L583.72 801.38 L584.97 801.38 L586.21 801.38 L587.46 801.38 L588.70 801.38 L589.95 801.38 L591.20 801.38 L592.44 801.38 L593.69 801.38 L594.93 801.38 L596.18 801.38 L597.42 801.38 L598.67 801.37 L599.92 801.37 L601.16 801.37 L602.41 801.37 L603.65 801.37 L604.90 801.37 L606.14 801.37 L607.39 801.37 L608.64 801.37 L609.88 801.37 L611.13 801.37 L612.37 801.37 L613.62 801.37 L614.87 801.37 L616.11 801.37 L617.36 801.37 L618.60 801.37 L619.85 801.37 L621.09 801.37 L622.34 801.37 L623.59 801.37 L624.83 801.37 L626.08 801.37 L627.32 801.37 L628.57 801.37 L629.81 801.37 L631.06 801.37 L632.31 801.37 L633.55 801.37 L634.80 801.37 L636.04 801.37 L637.29 801.37 L638.54 801.37 L639.78 801.37 L641.03 801.37 L642.27 801.37 L643.52 801.37 L644.76 801.37 L646.01 801.37 L647.26 801.37 L648.50 801.37 L649.75 801.37 L650.99 801.37 L652.24 801.37 L653.48 801.37 L654.73 801.37 L655.98 801.37 L657.22 801.37 L658.47 801.37 L659.71 801.37 L660.96 801.37 L662.20 801.37 L663.45 801.37 L664.70 801.37 L665.94 801.37 L667.19 801.37 L668.43 801.37 L669.68 801.37 L670.93 801.37 L672.17 801.37 L673.42 801.37 L674.66 801.37 L675.91 801.37 L677.15 801.37 L678.40 801.37 L679.65 801.37 L680.89 801.37 L682.14 801.37 L683.38 801.37 L684.63 801.37 L685.87 801.37 L687.12 801.37 L688.37 801.37 L689.61 801.37 L690.86 801.37 L692.10 801.37 L693.35 801.37 L694.60 801.37 L695.84 801.37 L697.09 801.37 L698.33 801.37 L699.58 801.37 L700.82 801.37 L702.07 801.37 L703.32 801.37 L704.56 801.37 L705.81 801.37 L707.05 801.37 L708.30 801.37 L709.54 801.37 L710.79 801.37 L712.04 801.37 L713.28 801.37 L714.53 801.37 L715.77 801.37 L717.02 801.37 L718.26 801.37 L719.51 801.37 L720.76 801.37 L722.00 801.37 L723.25 801.37 L724.49 801.37 L725.74 801.37 L726.99 801.37 L728.23 801.37 L729.48 801.37 L730.72 801.37 L731.97 801.37 L733.21 801.37 L734.46 801.37 L735.71 801.37 L736.95 801.37 L738.20 801.37 L739.44 801.37 L740.69 801.37 L741.93 801.37 L743.18 801.37 L744.43 801.37 L745.67 801.37 L746.92 801.37 L748.16 801.37 L749.41 801.37 L750.66 801.37 L751.90 801.37 L753.15 801.37 L754.39 801.37 L755.64 801.37 L756.88 801.37 L758.13 801.37 L759.38 801.37 L760.62 801.37 L761.87 801.37 L763.11 801.37 L764.36 801.37 L765.60 801.37 L766.85 801.37 L768.10 801.37 L769.34 801.37 L770.59 801.37 L771.83 801.37 L773.08 801.37 L774.33 801.37 L775.57 801.37 L776.82 801.37 L778.06 801.37 L779.31 801.37 L780.55 801.37 L781.80 801.37 L783.05 801.37 L784.29 801.37 L785.54 801.37 L786.78 801.37 L788.03 801.37 L789.27 801.37 L790.52 801.37 L791.77 801.37 L793.01 801.37 L794.26 801.37 L795.50 801.37 L796.75 801.37 L797.99 801.37 L799.24 801.37 L800.49 801.37 L801.73 801.37 L802.98 801.37 L804.22 801.37 L805.47 801.37 L806.72 801.37 L807.96 801.37 L809.21 801.37 L810.45 801.37 L811.70 801.37 L812.94 801.37 L814.19 801.37 L815.44 801.37 L816.68 801.37 L817.93 801.37 L819.17 801.37 L820.42 801.37 L821.66 801.37 L822.91 801.37 L824.16 801.37 L825.40 801.37 L826.65 801.37 L827.89 801.37 L829.14 801.37 L830.39 801.37 L831.63 801.37 L832.88 801.37 L834.12 801.37 L835.37 801.37 L836.61 801.37 L837.86 801.37 L839.11 801.37 L840.35 801.37 L841.60 801.37 L842.84 801.37 L844.09 801.37 L845.33 801.37 L846.58 801.37 L847.83 801.37 L849.07 801.37 L850.32 801.37 L851.56 801.37 L852.81 801.37 L854.05 801.37 L855.30 801.37 L856.55 801.37 L857.79 801.37 L859.04 801.37 L860.28 801.37 L861.53 801.37 L862.78 801.37 L864.02 801.37 L865.27 801.37 L866.51 801.37 L867.76 801.37 L869.00 801.37 L870.25 801.37 L871.50 801.37 L872.74 801.37 L873.99 801.37 L875.23 801.37 L876.48 801.37 L877.72 801.37 L878.97 801.37 L880.22 801.37 L881.46 801.37 L882.71 801.37 L883.95 801.37 L885.20 801.37 L886.45 801.37 L887.69 801.37 L888.94 801.37 L890.18 801.37 L891.43 801.37 L892.67 801.37 L893.92 801.37 L895.17 801.37 L896.41 801.37 L897.66 801.37 L898.90 801.37 L900.15 801.37 L901.39 801.37 L902.64 801.37 L903.89 801.37 L905.13 801.37 L906.38 801.37 L907.62 801.37 L908.87 801.37 L910.12 801.37 L911.36 801.37 L912.61 801.37 L913.85 801.37 L915.10 801.37 L916.34 801.37 L917.59 801.37 L918.84 801.37 L920.08 801.37 L921.33 801.37 L922.57 801.37 L923.82 801.37 L925.06 801.37 L926.31 801.37 L927.56 801.37 L928.80 801.37 L930.05 801.37 L931.29 801.37 L932.54 801.37 L933.78 801.37 L935.03 801.37 L936.28 801.37 L937.52 801.37 L938.77 801.37 L940.01 801.37 L941.26 801.37 L942.51 801.37 L943.75 801.37 L945.00 801.37 L946.24 801.37 L947.49 801.37 L948.73 801.37 L949.98 801.37 L951.23 801.37 L952.47 801.37 L953.72 801.37 L954.96 801.37 L956.21 801.37 L957.45 801.37 L958.70 801.37 L959.95 801.37 L961.19 801.37 L962.44 801.37 L963.68 801.37 L964.93 801.37 L966.18 801.37 L967.42 801.37 L968.67 801.37 L969.91 801.37 L971.16 801.37 L972.40 801.37 L973.65 801.37 L974.90 801.37 L976.14 801.37 L977.39 801.37 L978.63 801.37 L979.88 801.37 L981.12 801.37 L982.37 801.37 L983.62 801.37 L984.86 801.37 L986.11 801.37 L987.35 801.37 L988.60 801.37 L989.84 801.37 L991.09 801.37 L992.34 801.37 L993.58 801.37 L994.83 801.37 L996.07 801.37 L997.32 801.37 L998.57 801.37 L999.81 801.37 L1001.06 801.37 L1002.30 801.37 L1003.55 801.37 L1004.79 801.37 L1006.04 801.37 L1007.29 801.37 L1008.53 801.37 L1009.78 801.37 L1011.02 801.37 L1012.27 801.37 L1013.51 801.37 L1014.76 801.37 L1016.01 801.37 L1017.25 801.37 L1018.50 801.37 L1019.74 801.37 L1020.99 801.37 L1022.24 801.37 L1023.48 801.37 L1024.73 801.37 L1025.97 801.37 L1027.22 801.37 L1028.46 801.37 L1029.71 801.37 L1030.96 801.37 L1032.20 801.37 L1033.45 801.37 L1034.69 801.37 L1035.94 801.37 L1037.18 801.37 L1038.43 801.37 L1039.68 801.37 L1040.92 801.37 L1042.17 801.37 L1043.41 801.37 L1044.66 801.37 L1045.91 801.37 L1047.15 801.37 L1048.40 801.37 L1049.64 801.37 L1050.89 801.37 L1052.13 801.37 L1053.38 801.37 L1054.63 801.37 L1055.87 801.37 L1057.12 801.37 L1058.36 801.37 L1059.61 801.37 L1060.85 801.37 L1062.10 801.37 L1063.35 801.37 L1064.59 801.37 L1065.84 801.37 L1067.08 801.37 L1068.33 801.37 L1069.57 801.37 L1070.82 801.37 L1072.07 801.37 L1073.31 801.37 L1074.56 801.37 L1075.80 801.37 L1077.05 801.37 L1078.30 801.37 L1079.54 801.37 L1080.79 801.37 L1082.03 801.37 L1083.28 801.37 L1084.52 801.37 L1085.77 801.37 L1087.02 801.37 L1088.26 801.37 L1089.51 801.37 L1090.75 801.37 L1092.00 801.37 L1093.24 801.37 L1094.49 801.37 L1095.74 801.37 L1096.98 801.37 L1098.23 801.37 L1099.47 801.37 L1100.72 801.37 L1101.97 801.37 L1103.21 801.37 L1104.46 801.37 L1105.70 801.37 L1106.95 801.37 L1108.19 801.37 L1109.44 801.37 L1110.69 801.37 L1111.93 801.37 L1113.18 801.37 L1114.42 801.37 L1115.67 801.37 L1116.91 801.37 L1118.16 801.37 L1119.41 801.37 L1120.65 801.37 L1121.90 801.37 L1123.14 801.37 L1124.39 801.37 L1125.63 801.37 L1126.88 801.37 L1128.13 801.37 L1129.37 801.37 L1130.62 801.37 L1131.86 801.37 L1133.11 801.37 L1134.36 801.37 L1135.60 801.37 L1136.85 801.37 L1138.09 801.37 L1139.34 801.37 L1140.58 801.37 L1141.83 801.37 L1143.08 801.37 L1144.32 801.37 L1145.57 801.37 L1146.81 801.37 L1148.06 801.37 L1149.30 801.37 L1150.55 801.37 L1151.80 801.37 L1153.04 801.37 L1154.29 801.37 L1155.53 801.37 L1156.78 801.37 L1158.03 801.37 L1159.27 801.37 L1160.52 801.37 L1161.76 801.37 L1163.01 801.37 L1164.25 801.37 L1165.50 801.37 L1166.75 801.37 L1167.99 801.37 L1169.24 801.37 L1170.48 801.37 L1171.73 801.37 L1172.97 801.37 L1174.22 801.37 L1175.47 801.37 L1176.71 801.37 L1177.96 801.37 L1179.20 801.37 L1180.45 801.37 L1181.70 801.37 L1182.94 801.37 L1184.19 801.37 L1185.43 801.37 L1186.68 801.37 L1187.92 801.37 L1189.17 801.37 L1190.42 801.37 L1191.66 801.37 L1192.91 801.37 L1194.15 801.37 L1195.40 801.37 L1196.64 801.37 L1197.89 801.37 L1199.14 801.37 L1200.38 801.37 L1201.63 801.37 L1202.87 801.37 L1204.12 801.37 L1205.36 801.37 L1206.61 801.37 L1207.86 801.37 L1209.10 801.37 L1210.35 801.37 L1211.59 801.37 L1212.84 801.37 L1214.09 801.37 L1215.33 801.37 L1216.58 801.37 L1217.82 801.37 L1219.07 801.37 L1220.31 801.37 L1221.56 801.37 L1222.81 801.37 L1224.05 801.37 L1225.30 801.37 L1226.54 801.37 L1227.79 801.37 L1229.03 801.37 L1230.28 801.37 L1231.53 801.37 L1232.77 801.37 L1234.02 801.37 L1235.26 801.37 L1236.51 801.37 L1237.76 801.37 L1239.00 801.37 L1240.25 801.37 L1241.49 801.37 L1242.74 801.37 L1243.98 801.37 L1245.23 801.37 L1246.48 801.37 L1247.72 801.37 L1248.97 801.37 L1250.21 801.37 L1251.46 801.37 L1252.70 801.37 L1253.95 801.37 L1255.20 801.37 L1256.44 801.37 L1257.69 801.37 L1258.93 801.37 L1260.18 801.37 L1261.43 801.37 L1262.67 801.37 L1263.92 801.37 L1265.16 801.37 L1266.41 801.37 L1267.65 801.37 L1268.90 801.37 L1270.15 801.37 L1271.39 801.37 L1272.64 801.37 L1273.88 801.37 L1275.13 801.37 L1276.37 801.37 L1277.62 801.37 L1278.87 801.37 L1280.11 801.37 L1281.36 801.37 L1282.60 801.37 L1283.85 801.37 L1285.09 801.37 L1286.34 801.37 L1287.59 801.37 L1288.83 801.37 L1290.08 801.37 L1291.32 801.37 L1292.57 801.37 L1293.82 801.37 L1295.06 801.37 L1296.31 801.37 L1297.55 801.37 L1298.80 801.37 L1300.04 801.37 L1301.29 801.37 L1302.54 801.37 L1303.78 801.37 L1305.03 801.37 L1306.27 801.37 L1307.52 801.37 L1308.76 801.37 L1310.01 801.37 L1311.26 801.37 L1312.50 801.37 L1313.75 801.37 L1314.99 801.37 L1316.24 801.37 L1317.49 801.37 L1318.73 801.37 L1319.98 801.37 L1321.22 801.37 L1322.47 801.37 L1323.71 801.37 L1324.96 801.37 L1326.21 801.37 L1327.45 801.37 L1328.70 801.37 L1329.94 801.37 L1331.19 801.37 L1332.43 801.37 L1333.68 801.37 L1334.93 801.37 L1336.17 801.37 L1337.42 801.37 L1338.66 801.37 L1339.91 801.37 L1341.15 801.37 L1342.40 801.37 L1343.65 801.37 L1344.89 801.37 L1346.14 801.37 L1347.38 801.37 L1348.63 801.37 L1349.88 801.37 L1351.12 801.37 L1352.37 801.37 L1353.61 801.37 L1354.86 801.37 L1356.10 801.37 L1357.35 801.37 L1358.60 801.37 L1359.84 801.37 L1361.09 801.37 L1362.33 801.37 L1363.58 801.37 L1364.82 801.37 L1366.07 801.37 L1367.32 801.37 L1368.56 801.37 L1369.81 801.37 L1371.05 801.37 L1372.30 801.37 L1373.55 801.37 L1374.79 801.37 L1376.04 801.37 L1377.28 801.37 L1378.53 801.37 L1379.77 801.37 L1381.02 801.37 L1382.27 801.37 L1383.51 801.37 L1384.76 801.37 L1386.00 801.37 L1387.25 801.37 L1388.49 801.37 L1389.74 801.37 L1390.99 801.37 L1392.23 801.37 L1393.48 801.37 L1394.72 801.37 L1395.97 801.37 L1397.22 801.37 L1398.46 801.37 L1399.71 801.37 L1400.95 801.37 L1402.20 801.37 L1403.44 801.37 L1404.69 801.37 L1405.94 801.37 L1407.18 801.37 L1408.43 801.37 L1409.67 801.37 L1410.92 801.37 L1412.16 801.37 L1413.41 801.37 L1414.66 801.37 L1415.90 801.37 L1417.15 801.37 L1418.39 801.37 L1419.64 801.37 L1420.88 801.37 L1422.13 801.37 L1423.38 801.37 L1424.62 801.37 L1425.87 801.37 L1427.11 801.37 L1428.36 801.37 L1429.61 801.37 L1430.85 801.37 L1432.10 801.37 L1433.34 801.37 L1434.59 801.37 L1435.83 801.37 L1437.08 801.37" stroke="#1e1e1e" stroke-width="3.6" fill="none" stroke-linejoin="round"/>
<path d="M191.30 1113.50 L192.55 918.72 L193.79 793.70 L195.04 706.67 L196.28 642.59 L197.53 593.44 L198.77 554.55 L200.02 523.01 L201.27 496.92 L202.51 474.97 L203.76 456.25 L205.00 440.10 L206.25 426.03 L207.50 413.65 L208.74 402.67 L209.99 392.88 L211.23 384.09 L212.48 376.16 L213.72 368.96 L214.97 362.39 L216.22 356.39 L217.46 350.87 L218.71 345.78 L219.95 341.08 L221.20 336.72 L222.44 332.66 L223.69 328.87 L224.94 325.34 L226.18 322.03 L227.43 318.92 L228.67 316.00 L229.92 313.24 L231.16 310.64 L232.41 308.18 L233.66 305.86 L234.90 303.65 L236.15 301.56 L237.39 299.56 L238.64 297.67 L239.89 295.86 L241.13 294.14 L242.38 292.49 L243.62 290.92 L244.87 289.41 L246.11 287.97 L247.36 286.58 L248.61 285.26 L249.85 283.98 L251.10 282.75 L252.34 281.58 L253.59 280.44 L254.83 279.35 L256.08 278.29 L257.33 277.27 L258.57 276.29 L259.82 275.34 L261.06 274.43 L262.31 273.54 L263.56 272.68 L264.80 271.85 L266.05 271.05 L267.29 270.27 L268.54 269.52 L269.78 268.78 L271.03 268.07 L272.28 267.38 L273.52 266.71 L274.77 266.06 L276.01 265.43 L277.26 264.81 L278.50 264.21 L279.75 263.63 L281.00 263.06 L282.24 262.51 L283.49 261.97 L284.73 261.45 L285.98 260.94 L287.23 260.44 L288.47 259.95 L289.72 259.47 L290.96 259.01 L292.21 258.56 L293.45 258.12 L294.70 257.69 L295.95 257.26 L297.19 256.85 L298.44 256.45 L299.68 256.05 L300.93 255.67 L302.17 255.29 L303.42 254.92 L304.67 254.56 L305.91 254.21 L307.16 253.86 L308.40 253.52 L309.65 253.19 L310.89 252.86 L312.14 252.54 L313.39 252.23 L314.63 251.92 L315.88 251.62 L317.12 251.33 L318.37 251.04 L319.62 250.75 L320.86 250.47 L322.11 250.20 L323.35 249.93 L324.60 249.67 L325.84 249.41 L327.09 249.15 L328.34 248.90 L329.58 248.66 L330.83 248.42 L332.07 248.18 L333.32 247.94 L334.56 247.71 L335.81 247.49 L337.06 247.27 L338.30 247.05 L339.55 246.83 L340.79 246.62 L342.04 246.42 L343.29 246.21 L344.53 246.01 L345.78 245.81 L347.02 245.62 L348.27 245.42 L349.51 245.24 L350.76 245.05 L352.01 244.87 L353.25 244.69 L354.50 244.51 L355.74 244.33 L356.99 244.16 L358.23 243.99 L359.48 243.82 L360.73 243.66 L361.97 243.49 L363.22 243.33 L364.46 243.17 L365.71 243.02 L366.95 242.86 L368.20 242.71 L369.45 242.56 L370.69 242.41 L371.94 242.27 L373.18 242.12 L374.43 241.98 L375.68 241.84 L376.92 241.70 L378.17 241.57 L379.41 241.43 L380.66 241.30 L381.90 241.17 L383.15 241.04 L384.40 240.91 L385.64 240.78 L386.89 240.66 L388.13 240.54 L389.38 240.41 L390.62 240.29 L391.87 240.17 L393.12 240.06 L394.36 239.94 L395.61 239.83 L396.85 239.71 L398.10 239.60 L399.35 239.49 L400.59 239.38 L401.84 239.27 L403.08 239.17 L404.33 239.06 L405.57 238.96 L406.82 238.85 L408.07 238.75 L409.31 238.65 L410.56 238.55 L411.80 238.45 L413.05 238.36 L414.29 238.26 L415.54 238.16 L416.79 238.07 L418.03 237.98 L419.28 237.88 L420.52 237.79 L421.77 237.70 L423.02 237.61 L424.26 237.52 L425.51 237.44 L426.75 237.35 L428.00 237.26 L429.24 237.18 L430.49 237.09 L431.74 237.01 L432.98 236.93 L434.23 236.85 L435.47 236.77 L436.72 236.69 L437.96 236.61 L439.21 236.53 L440.46 236.45 L441.70 236.37 L442.95 236.30 L444.19 236.22 L445.44 236.15 L446.68 236.07 L447.93 236.00 L449.18 235.93 L450.42 235.86 L451.67 235.79 L452.91 235.72 L454.16 235.65 L455.41 235.58 L456.65 235.51 L457.90 235.44 L459.14 235.37 L460.39 235.31 L461.63 235.24 L462.88 235.17 L464.13 235.11 L465.37 235.05 L466.62 234.98 L467.86 234.92 L469.11 234.86 L470.35 234.79 L471.60 234.73 L472.85 234.67 L474.09 234.61 L475.34 234.55 L476.58 234.49 L477.83 234.43 L479.08 234.37 L480.32 234.32 L481.57 234.26 L482.81 234.20 L484.06 234.15 L485.30 234.09 L486.55 234.03 L487.80 233.98 L489.04 233.92 L490.29 233.87 L491.53 233.82 L492.78 233.76 L494.02 233.71 L495.27 233.66 L496.52 233.61 L497.76 233.56 L499.01 233.50 L500.25 233.45 L501.50 233.40 L502.75 233.35 L503.99 233.30 L505.24 233.25 L506.48 233.21 L507.73 233.16 L508.97 233.11 L510.22 233.06 L511.47 233.01 L512.71 232.97 L513.96 232.92 L515.20 232.87 L516.45 232.83 L517.69 232.78 L518.94 232.74 L520.19 232.69 L521.43 232.65 L522.68 232.60 L523.92 232.56 L525.17 232.52 L526.41 232.47 L527.66 232.43 L528.91 232.39 L530.15 232.35 L531.40 232.30 L532.64 232.26 L533.89 232.22 L535.14 232.18 L536.38 232.14 L537.63 232.10 L538.87 232.06 L540.12 232.02 L541.36 231.98 L542.61 231.94 L543.86 231.90 L545.10 231.86 L546.35 231.82 L547.59 231.78 L548.84 231.75 L550.08 231.71 L551.33 231.67 L552.58 231.63 L553.82 231.60 L555.07 231.56 L556.31 231.52 L557.56 231.49 L558.81 231.45 L560.05 231.42 L561.30 231.38 L562.54 231.35 L563.79 231.31 L565.03 231.28 L566.28 231.24 L567.53 231.21 L568.77 231.17 L570.02 231.14 L571.26 231.10 L572.51 231.07 L573.75 231.04 L575.00 231.00 L576.25 230.97 L577.49 230.94 L578.74 230.91 L579.98 230.87 L581.23 230.84 L582.47 230.81 L583.72 230.78 L584.97 230.75 L586.21 230.72 L587.46 230.69 L588.70 230.65 L589.95 230.62 L591.20 230.59 L592.44 230.56 L593.69 230.53 L594.93 230.50 L596.18 230.47 L597.42 230.44 L598.67 230.41 L599.92 230.39 L601.16 230.36 L602.41 230.33 L603.65 230.30 L604.90 230.27 L606.14 230.24 L607.39 230.21 L608.64 230.19 L609.88 230.16 L611.13 230.13 L612.37 230.10 L613.62 230.08 L614.87 230.05 L616.11 230.02 L617.36 229.99 L618.60 229.97 L619.85 229.94 L621.09 229.91 L622.34 229.89 L623.59 229.86 L624.83 229.84 L626.08 229.81 L627.32 229.79 L628.57 229.76 L629.81 229.73 L631.06 229.71 L632.31 229.68 L633.55 229.66 L634.80 229.63 L636.04 229.61 L637.29 229.58 L638.54 229.56 L639.78 229.54 L641.03 229.51 L642.27 229.49 L643.52 229.46 L644.76 229.44 L646.01 229.42 L647.26 229.39 L648.50 229.37 L649.75 229.35 L650.99 229.32 L652.24 229.30 L653.48 229.28 L654.73 229.26 L655.98 229.23 L657.22 229.21 L658.47 229.19 L659.71 229.17 L660.96 229.14 L662.20 229.12 L663.45 229.10 L664.70 229.08 L665.94 229.06 L667.19 229.03 L668.43 229.01 L669.68 228.99 L670.93 228.97 L672.17 228.95 L673.42 228.93 L674.66 228.91 L675.91 228.89 L677.15 228.87 L678.40 228.84 L679.65 228.82 L680.89 228.80 L682.14 228.78 L683.38 228.76 L684.63 228.74 L685.87 228.72 L687.12 228.70 L688.37 228.68 L689.61 228.66 L690.86 228.64 L692.10 228.63 L693.35 228.61 L694.60 228.59 L695.84 228.57 L697.09 228.55 L698.33 228.53 L699.58 228.51 L700.82 228.49 L702.07 228.47 L703.32 228.45 L704.56 228.44 L705.81 228.42 L707.05 228.40 L708.30 228.38 L709.54 228.36 L710.79 228.34 L712.04 228.33 L713.28 228.31 L714.53 228.29 L715.77 228.27 L717.02 228.25 L718.26 228.24 L719.51 228.22 L720.76 228.20 L722.00 228.18 L723.25 228.17 L724.49 228.15 L725.74 228.13 L726.99 228.12 L728.23 228.10 L729.48 228.08 L730.72 228.07 L731.97 228.05 L733.21 228.03 L734.46 228.01 L735.71 228.00 L736.95 227.98 L738.20 227.97 L739.44 227.95 L740.69 227.93 L741.93 227.92 L743.18 227.90 L744.43 227.88 L745.67 227.87 L746.92 227.85 L748.16 227.84 L749.41 227.82 L750.66 227.81 L751.90 227.79 L753.15 227.77 L754.39 227.76 L755.64 227.74 L756.88 227.73 L758.13 227.71 L759.38 227.70 L760.62 227.68 L761.87 227.67 L763.11 227.65 L764.36 227.64 L765.60 227.62 L766.85 227.61 L768.10 227.59 L769.34 227.58 L770.59 227.56 L771.83 227.55 L773.08 227.54 L774.33 227.52 L775.57 227.51 L776.82 227.49 L778.06 227.48 L779.31 227.46 L780.55 227.45 L781.80 227.44 L783.05 227.42 L784.29 227.41 L785.54 227.39 L786.78 227.38 L788.03 227.37 L789.27 227.35 L790.52 227.34 L791.77 227.33 L793.01 227.31 L794.26 227.30 L795.50 227.29 L796.75 227.27 L797.99 227.26 L799.24 227.25 L800.49 227.23 L801.73 227.22 L802.98 227.21 L804.22 227.19 L805.47 227.18 L806.72 227.17 L807.96 227.15 L809.21 227.14 L810.45 227.13 L811.70 227.12 L812.94 227.10 L814.19 227.09 L815.44 227.08 L816.68 227.06 L817.93 227.05 L819.17 227.04 L820.42 227.03 L821.66 227.02 L822.91 227.00 L824.16 226.99 L825.40 226.98 L826.65 226.97 L827.89 226.95 L829.14 226.94 L830.39 226.93 L831.63 226.92 L832.88 226.91 L834.12 226.89 L835.37 226.88 L836.61 226.87 L837.86 226.86 L839.11 226.85 L840.35 226.84 L841.60 226.82 L842.84 226.81 L844.09 226.80 L845.33 226.79 L846.58 226.78 L847.83 226.77 L849.07 226.76 L850.32 226.74 L851.56 226.73 L852.81 226.72 L854.05 226.71 L855.30 226.70 L856.55 226.69 L857.79 226.68 L859.04 226.67 L860.28 226.66 L861.53 226.64 L862.78 226.63 L864.02 226.62 L865.27 226.61 L866.51 226.60 L867.76 226.59 L869.00 226.58 L870.25 226.57 L871.50 226.56 L872.74 226.55 L873.99 226.54 L875.23 226.53 L876.48 226.52 L877.72 226.51 L878.97 226.50 L880.22 226.49 L881.46 226.47 L882.71 226.46 L883.95 226.45 L885.20 226.44 L886.45 226.43 L887.69 226.42 L888.94 226.41 L890.18 226.40 L891.43 226.39 L892.67 226.38 L893.92 226.37 L895.17 226.36 L896.41 226.35 L897.66 226.34 L898.90 226.33 L900.15 226.32 L901.39 226.31 L902.64 226.31 L903.89 226.30 L905.13 226.29 L906.38 226.28 L907.62 226.27 L908.87 226.26 L910.12 226.25 L911.36 226.24 L912.61 226.23 L913.85 226.22 L915.10 226.21 L916.34 226.20 L917.59 226.19 L918.84 226.18 L920.08 226.17 L921.33 226.16 L922.57 226.15 L923.82 226.15 L925.06 226.14 L926.31 226.13 L927.56 226.12 L928.80 226.11 L930.05 226.10 L931.29 226.09 L932.54 226.08 L933.78 226.07 L935.03 226.06 L936.28 226.06 L937.52 226.05 L938.77 226.04 L940.01 226.03 L941.26 226.02 L942.51 226.01 L943.75 226.00 L945.00 225.99 L946.24 225.99 L947.49 225.98 L948.73 225.97 L949.98 225.96 L951.23 225.95 L952.47 225.94 L953.72 225.93 L954.96 225.93 L956.21 225.92 L957.45 225.91 L958.70 225.90 L959.95 225.89 L961.19 225.88 L962.44 225.88 L963.68 225.87 L964.93 225.86 L966.18 225.85 L967.42 225.84 L968.67 225.83 L969.91 225.83 L971.16 225.82 L972.40 225.81 L973.65 225.80 L974.90 225.79 L976.14 225.79 L977.39 225.78 L978.63 225.77 L979.88 225.76 L981.12 225.75 L982.37 225.75 L983.62 225.74 L984.86 225.73 L986.11 225.72 L987.35 225.72 L988.60 225.71 L989.84 225.70 L991.09 225.69 L992.34 225.69 L993.58 225.68 L994.83 225.67 L996.07 225.66 L997.32 225.65 L998.57 225.65 L999.81 225.64 L1001.06 225.63 L1002.30 225.62 L1003.55 225.62 L1004.79 225.61 L1006.04 225.60 L1007.29 225.59 L1008.53 225.59 L1009.78 225.58 L1011.02 225.57 L1012.27 225.57 L1013.51 225.56 L1014.76 225.55 L1016.01 225.54 L1017.25 225.54 L1018.50 225.53 L1019.74 225.52 L1020.99 225.52 L1022.24 225.51 L1023.48 225.50 L1024.73 225.49 L1025.97 225.49 L1027.22 225.48 L1028.46 225.47 L1029.71 225.47 L1030.96 225.46 L1032.20 225.45 L1033.45 225.44 L1034.69 225.44 L1035.94 225.43 L1037.18 225.42 L1038.43 225.42 L1039.68 225.41 L1040.92 225.40 L1042.17 225.40 L1043.41 225.39 L1044.66 225.38 L1045.91 225.38 L1047.15 225.37 L1048.40 225.36 L1049.64 225.36 L1050.89 225.35 L1052.13 225.34 L1052.96 225.34" stroke="#ff0000" stroke-width="4.5" fill="none" stroke-dasharray="28 29.5"/>
<path d="M1052.96 225.34 L1053.38 225.34 L1054.63 225.33 L1055.87 225.32 L1057.12 225.32 L1058.36 225.31 L1059.61 225.30 L1060.85 225.30 L1062.10 225.29 L1063.35 225.28 L1064.59 225.28 L1065.84 225.27 L1067.08 225.27 L1068.33 225.26 L1069.57 225.25 L1070.82 225.25 L1072.07 225.24 L1073.31 225.23 L1074.56 225.23 L1075.80 225.22 L1077.05 225.21 L1078.30 225.21 L1079.54 225.20 L1080.79 225.20 L1082.03 225.19 L1083.28 225.18 L1084.52 225.18 L1085.77 225.17 L1087.02 225.16 L1088.26 225.16 L1089.51 225.15 L1090.75 225.15 L1092.00 225.14 L1093.24 225.13 L1094.49 225.13 L1095.74 225.12 L1096.98 225.12 L1098.23 225.11 L1099.47 225.10 L1100.72 225.10 L1101.97 225.09 L1103.21 225.09 L1104.46 225.08 L1105.70 225.07 L1106.95 225.07 L1108.19 225.06 L1109.44 225.06 L1110.69 225.05 L1111.93 225.05 L1113.18 225.04 L1114.42 225.03 L1115.67 225.03 L1116.91 225.02 L1118.16 225.02 L1119.41 225.01 L1120.65 225.01 L1121.90 225.00 L1123.14 224.99 L1124.39 224.99 L1125.63 224.98 L1126.88 224.98 L1128.13 224.97 L1129.37 224.97 L1130.62 224.96 L1131.86 224.95 L1133.11 224.95 L1134.36 224.94 L1135.60 224.94 L1136.85 224.93 L1138.09 224.93 L1139.34 224.92 L1140.58 224.92 L1141.83 224.91 L1143.08 224.91 L1144.32 224.90 L1145.57 224.89 L1146.81 224.89 L1148.06 224.88 L1149.30 224.88 L1150.55 224.87 L1151.80 224.87 L1153.04 224.86 L1154.29 224.86 L1155.53 224.85 L1156.78 224.85 L1158.03 224.84 L1159.27 224.84 L1160.52 224.83 L1161.76 224.83 L1163.01 224.82 L1164.25 224.81 L1165.50 224.81 L1166.75 224.80 L1167.99 224.80 L1169.24 224.79 L1170.48 224.79 L1171.73 224.78 L1172.97 224.78 L1174.22 224.77 L1175.47 224.77 L1176.71 224.76 L1177.96 224.76 L1179.20 224.75 L1180.45 224.75 L1181.70 224.74 L1182.94 224.74 L1184.19 224.73 L1185.43 224.73 L1186.68 224.72 L1187.92 224.72 L1189.17 224.71 L1190.42 224.71 L1191.66 224.70 L1192.91 224.70 L1194.15 224.69 L1195.40 224.69 L1196.64 224.68 L1197.89 224.68 L1199.14 224.67 L1200.38 224.67 L1201.63 224.66 L1202.87 224.66 L1204.12 224.66 L1205.36 224.65 L1206.61 224.65 L1207.86 224.64 L1209.10 224.64 L1210.35 224.63 L1211.59 224.63 L1212.84 224.62 L1214.09 224.62 L1215.33 224.61 L1216.58 224.61 L1217.82 224.60 L1219.07 224.60 L1220.31 224.59 L1221.56 224.59 L1222.81 224.58 L1224.05 224.58 L1225.30 224.58 L1226.54 224.57 L1227.79 224.57 L1229.03 224.56 L1230.28 224.56 L1231.53 224.55 L1232.77 224.55 L1234.02 224.54 L1235.26 224.54 L1236.51 224.53 L1237.76 224.53 L1239.00 224.53 L1240.25 224.52 L1241.49 224.52 L1242.74 224.51 L1243.98 224.51 L1245.23 224.50 L1246.48 224.50 L1247.72 224.49 L1248.97 224.49 L1250.21 224.49 L1251.46 224.48 L1252.70 224.48 L1253.95 224.47 L1255.20 224.47 L1256.44 224.46 L1257.69 224.46 L1258.93 224.45 L1260.18 224.45 L1261.43 224.45 L1262.67 224.44 L1263.92 224.44 L1265.16 224.43 L1266.41 224.43 L1267.65 224.42 L1268.90 224.42 L1270.15 224.42 L1271.39 224.41 L1272.64 224.41 L1273.88 224.40 L1275.13 224.40 L1276.37 224.40 L1277.62 224.39 L1278.87 224.39 L1280.11 224.38 L1281.36 224.38 L1282.60 224.37 L1283.85 224.37 L1285.09 224.37 L1286.34 224.36 L1287.59 224.36 L1288.83 224.35 L1290.08 224.35 L1291.32 224.35 L1292.57 224.34 L1293.82 224.34 L1295.06 224.33 L1296.31 224.33 L1297.55 224.33 L1298.80 224.32 L1300.04 224.32 L1301.29 224.31 L1302.54 224.31 L1303.78 224.31 L1305.03 224.30 L1306.27 224.30 L1307.52 224.29 L1308.76 224.29 L1310.01 224.29 L1311.26 224.28 L1312.50 224.28 L1313.75 224.27 L1314.99 224.27 L1316.24 224.27 L1317.49 224.26 L1318.73 224.26 L1319.98 224.25 L1321.22 224.25 L1322.47 224.25 L1323.71 224.24 L1324.96 224.24 L1326.21 224.24 L1327.45 224.23 L1328.70 224.23 L1329.94 224.22 L1331.19 224.22 L1332.43 224.22 L1333.68 224.21 L1334.93 224.21 L1336.17 224.21 L1337.42 224.20 L1338.66 224.20 L1339.91 224.19 L1341.15 224.19 L1342.40 224.19 L1343.65 224.18 L1344.89 224.18 L1346.14 224.18 L1347.38 224.17 L1348.63 224.17 L1349.88 224.16 L1351.12 224.16 L1352.37 224.16 L1353.61 224.15 L1354.86 224.15 L1356.10 224.15 L1357.35 224.14 L1358.60 224.14 L1359.84 224.14 L1361.09 224.13 L1362.33 224.13 L1363.58 224.12 L1364.82 224.12 L1366.07 224.12 L1367.32 224.11 L1368.56 224.11 L1369.81 224.11 L1371.05 224.10 L1372.30 224.10 L1373.55 224.10 L1374.79 224.09 L1376.04 224.09 L1377.28 224.09 L1378.53 224.08 L1379.77 224.08 L1381.02 224.07 L1382.27 224.07 L1383.51 224.07 L1384.76 224.06 L1386.00 224.06 L1387.25 224.06 L1388.49 224.05 L1389.74 224.05 L1390.99 224.05 L1392.23 224.04 L1393.48 224.04 L1394.72 224.04 L1395.97 224.03 L1397.22 224.03 L1398.46 224.03 L1399.71 224.02 L1400.95 224.02 L1402.20 224.02 L1403.44 224.01 L1404.69 224.01 L1405.94 224.01 L1407.18 224.00 L1408.43 224.00 L1409.67 224.00 L1410.92 223.99 L1412.16 223.99 L1413.41 223.99 L1414.66 223.98 L1415.90 223.98 L1417.15 223.98 L1418.39 223.97 L1419.64 223.97 L1420.88 223.97 L1422.13 223.96 L1423.38 223.96 L1424.62 223.96 L1425.87 223.95 L1427.11 223.95 L1428.36 223.95 L1429.61 223.94 L1430.85 223.94 L1432.10 223.94 L1433.34 223.93 L1434.59 223.93 L1435.83 223.93 L1437.08 223.93" stroke="#ff0000" stroke-width="4.5" fill="none" stroke-dasharray="28 29.5"/>
<path d="M191.30 1113.50 L192.55 1098.50 L193.79 1084.80 L195.04 1072.24 L196.28 1060.68 L197.53 1050.00 L198.77 1040.11 L200.02 1030.93 L201.27 1022.37 L202.51 1014.39 L203.76 1006.92 L205.00 999.91 L206.25 993.32 L207.50 987.13 L208.74 981.28 L209.99 975.76 L211.23 970.54 L212.48 965.59 L213.72 960.89 L214.97 956.43 L216.22 952.18 L217.46 948.14 L218.71 944.28 L219.95 940.60 L221.20 937.08 L222.44 933.72 L223.69 930.50 L224.94 927.41 L226.18 924.44 L227.43 921.60 L228.67 918.87 L229.92 916.24 L231.16 913.71 L232.41 911.27 L233.66 908.93 L234.90 906.66 L236.15 904.48 L237.39 902.37 L238.64 900.33 L239.89 898.36 L241.13 896.45 L242.38 894.61 L243.62 892.82 L244.87 891.09 L246.11 889.42 L247.36 887.79 L248.61 886.21 L249.85 884.68 L251.10 883.19 L252.34 881.75 L253.59 880.35 L254.83 878.98 L256.08 877.65 L257.33 876.36 L258.57 875.10 L259.82 873.88 L261.06 872.69 L262.31 871.52 L263.56 870.39 L264.80 869.29 L266.05 868.21 L267.29 867.16 L268.54 866.13 L269.78 865.13 L271.03 864.15 L272.28 863.20 L273.52 862.26 L274.77 861.35 L276.01 860.46 L277.26 859.59 L278.50 858.74 L279.75 857.90 L281.00 857.09 L282.24 856.29 L283.49 855.50 L284.73 854.74 L285.98 853.99 L287.23 853.25 L288.47 852.53 L289.72 851.83 L290.96 851.14 L292.21 850.46 L293.45 849.79 L294.70 849.14 L295.95 848.50 L297.19 847.87 L298.44 847.26 L299.68 846.65 L300.93 846.06 L302.17 845.48 L303.42 844.91 L304.67 844.34 L305.91 843.79 L307.16 843.25 L308.40 842.72 L309.65 842.19 L310.89 841.68 L312.14 841.17 L313.39 840.67 L314.63 840.19 L315.88 839.70 L317.12 839.23 L318.37 838.76 L319.62 838.31 L320.86 837.86 L322.11 837.41 L323.35 836.98 L324.60 836.55 L325.84 836.12 L327.09 835.71 L328.34 835.30 L329.58 834.89 L330.83 834.49 L332.07 834.10 L333.32 833.71 L334.56 833.33 L335.81 832.96 L337.06 832.59 L338.30 832.22 L339.55 831.87 L340.79 831.51 L342.04 831.16 L343.29 830.82 L344.53 830.48 L345.78 830.14 L347.02 829.81 L348.27 829.49 L349.51 829.17 L350.76 828.85 L352.01 828.54 L353.25 828.23 L354.50 827.92 L355.74 827.62 L356.99 827.33 L358.23 827.03 L359.48 826.74 L360.73 826.46 L361.97 826.18 L363.22 825.90 L364.46 825.62 L365.71 825.35 L366.95 825.09 L368.20 824.82 L369.45 824.56 L370.69 824.30 L371.94 824.05 L373.18 823.79 L374.43 823.54 L375.68 823.30 L376.92 823.05 L378.17 822.81 L379.41 822.58 L380.66 822.34 L381.90 822.11 L383.15 821.88 L384.40 821.65 L385.64 821.43 L386.89 821.21 L388.13 820.99 L389.38 820.77 L390.62 820.55 L391.87 820.34 L393.12 820.13 L394.36 819.93 L395.61 819.72 L396.85 819.52 L398.10 819.32 L399.35 819.12 L400.59 818.92 L401.84 818.73 L403.08 818.53 L404.33 818.34 L405.57 818.15 L406.82 817.97 L408.07 817.78 L409.31 817.60 L410.56 817.42 L411.80 817.24 L413.05 817.06 L414.29 816.89 L415.54 816.71 L416.79 816.54 L418.03 816.37 L419.28 816.20 L420.52 816.03 L421.77 815.87 L423.02 815.70 L424.26 815.54 L425.51 815.38 L426.75 815.22 L428.00 815.06 L429.24 814.91 L430.49 814.75 L431.74 814.60 L432.98 814.45 L434.23 814.30 L435.47 814.15 L436.72 814.00 L437.96 813.85 L439.21 813.71 L440.46 813.56 L441.70 813.42 L442.95 813.28 L444.19 813.14 L445.44 813.00 L446.68 812.86 L447.93 812.73 L449.18 812.59 L450.42 812.46 L451.67 812.32 L452.91 812.19 L454.16 812.06 L455.41 811.93 L456.65 811.80 L457.90 811.68 L459.14 811.55 L460.39 811.43 L461.63 811.30 L462.88 811.18 L464.13 811.06 L465.37 810.94 L466.62 810.82 L467.86 810.70 L469.11 810.58 L470.35 810.46 L471.60 810.35 L472.85 810.23 L474.09 810.12 L475.34 810.00 L476.58 809.89 L477.83 809.78 L479.08 809.67 L480.32 809.56 L481.57 809.45 L482.81 809.34 L484.06 809.24 L485.30 809.13 L486.55 809.02 L487.80 808.92 L489.04 808.82 L490.29 808.71 L491.53 808.61 L492.78 808.51 L494.02 808.41 L495.27 808.31 L496.52 808.21 L497.76 808.11 L499.01 808.01 L500.25 807.92 L501.50 807.82 L502.75 807.72 L503.99 807.63 L505.24 807.53 L506.48 807.44 L507.73 807.35 L508.97 807.26 L510.22 807.16 L511.47 807.07 L512.71 806.98 L513.96 806.89 L515.20 806.81 L516.45 806.72 L517.69 806.63 L518.94 806.54 L520.19 806.46 L521.43 806.37 L522.68 806.28 L523.92 806.20 L525.17 806.12 L526.41 806.03 L527.66 805.95 L528.91 805.87 L530.15 805.79 L531.40 805.70 L532.64 805.62 L533.89 805.54 L535.14 805.46 L536.38 805.38 L537.63 805.31 L538.87 805.23 L540.12 805.15 L541.36 805.07 L542.61 805.00 L543.86 804.92 L545.10 804.85 L546.35 804.77 L547.59 804.70 L548.84 804.62 L550.08 804.55 L551.33 804.48 L552.58 804.40 L553.82 804.33 L555.07 804.26 L556.31 804.19 L557.56 804.12 L558.81 804.05 L560.05 803.98 L561.30 803.91 L562.54 803.84 L563.79 803.77 L565.03 803.70 L566.28 803.64 L567.53 803.57 L568.77 803.50 L570.02 803.43 L571.26 803.37 L572.51 803.30 L573.75 803.24 L575.00 803.17 L576.25 803.11 L577.49 803.04 L578.74 802.98 L579.98 802.92 L581.23 802.85 L582.47 802.79 L583.72 802.73 L584.97 802.67 L586.21 802.61 L587.46 802.55 L588.70 802.49 L589.95 802.42 L591.20 802.36 L592.44 802.31 L593.69 802.25 L594.93 802.19 L596.18 802.13 L597.42 802.07 L598.67 802.01 L599.92 801.95 L601.16 801.90 L602.41 801.84 L603.65 801.78 L604.90 801.73 L606.14 801.67 L607.39 801.62 L608.64 801.56 L609.88 801.51 L611.13 801.45 L612.37 801.40 L613.62 801.34 L614.87 801.29 L616.11 801.23 L617.36 801.18 L618.60 801.13 L619.85 801.08 L621.09 801.02 L622.34 800.97 L623.59 800.92 L624.83 800.87 L626.08 800.82 L627.32 800.77 L628.57 800.72 L629.81 800.66 L631.06 800.61 L632.31 800.56 L633.55 800.52 L634.80 800.47 L636.04 800.42 L637.29 800.37 L638.54 800.32 L639.78 800.27 L641.03 800.22 L642.27 800.17 L643.52 800.13 L644.76 800.08 L646.01 800.03 L647.26 799.99 L648.50 799.94 L649.75 799.89 L650.99 799.85 L652.24 799.80 L653.48 799.76 L654.73 799.71 L655.98 799.66 L657.22 799.62 L658.47 799.58 L659.71 799.53 L660.96 799.49 L662.20 799.44 L663.45 799.40 L664.70 799.36 L665.94 799.31 L667.19 799.27 L668.43 799.23 L669.68 799.18 L670.93 799.14 L672.17 799.10 L673.42 799.06 L674.66 799.01 L675.91 798.97 L677.15 798.93 L678.40 798.89 L679.65 798.85 L680.89 798.81 L682.14 798.77 L683.38 798.73 L684.63 798.69 L685.87 798.65 L687.12 798.61 L688.37 798.57 L689.61 798.53 L690.86 798.49 L692.10 798.45 L693.35 798.41 L694.60 798.37 L695.84 798.33 L697.09 798.29 L698.33 798.25 L699.58 798.22 L700.82 798.18 L702.07 798.14 L703.32 798.10 L704.56 798.07 L705.81 798.03 L707.05 797.99 L708.30 797.95 L709.54 797.92 L710.79 797.88 L712.04 797.84 L713.28 797.81 L714.53 797.77 L715.77 797.74 L717.02 797.70 L718.26 797.67 L719.51 797.63 L720.76 797.59 L722.00 797.56 L723.25 797.52 L724.49 797.49 L725.74 797.46 L726.99 797.42 L728.23 797.39 L729.48 797.35 L730.72 797.32 L731.97 797.28 L733.21 797.25 L734.46 797.22 L735.71 797.18 L736.95 797.15 L738.20 797.12 L739.44 797.08 L740.69 797.05 L741.93 797.02 L743.18 796.99 L744.43 796.95 L745.67 796.92 L746.92 796.89 L748.16 796.86 L749.41 796.83 L750.66 796.79 L751.90 796.76 L753.15 796.73 L754.39 796.70 L755.64 796.67 L756.88 796.64 L758.13 796.61 L759.38 796.57 L760.62 796.54 L761.87 796.51 L763.11 796.48 L764.36 796.45 L765.60 796.42 L766.85 796.39 L768.10 796.36 L769.34 796.33 L770.59 796.30 L771.83 796.27 L773.08 796.24 L774.33 796.21 L775.57 796.19 L776.82 796.16 L778.06 796.13 L779.31 796.10 L780.55 796.07 L781.80 796.04 L783.05 796.01 L784.29 795.98 L785.54 795.96 L786.78 795.93 L788.03 795.90 L789.27 795.87 L790.52 795.84 L791.77 795.82 L793.01 795.79 L794.26 795.76 L795.50 795.73 L796.75 795.71 L797.99 795.68 L799.24 795.65 L800.49 795.63 L801.73 795.60 L802.98 795.57 L804.22 795.55 L805.47 795.52 L806.72 795.49 L807.96 795.47 L809.21 795.44 L810.45 795.41 L811.70 795.39 L812.94 795.36 L814.19 795.34 L815.44 795.31 L816.68 795.28 L817.93 795.26 L819.17 795.23 L820.42 795.21 L821.66 795.18 L822.91 795.16 L824.16 795.13 L825.40 795.11 L826.65 795.08 L827.89 795.06 L829.14 795.03 L830.39 795.01 L831.63 794.98 L832.88 794.96 L834.12 794.94 L835.37 794.91 L836.61 794.89 L837.86 794.86 L839.11 794.84 L840.35 794.82 L841.60 794.79 L842.84 794.77 L844.09 794.74 L845.33 794.72 L846.58 794.70 L847.83 794.67 L849.07 794.65 L850.32 794.63 L851.56 794.60 L852.81 794.58 L854.05 794.56 L855.30 794.54 L856.55 794.51 L857.79 794.49 L859.04 794.47 L860.28 794.45 L861.53 794.42 L862.78 794.40 L864.02 794.38 L865.27 794.36 L866.51 794.33 L867.76 794.31 L869.00 794.29 L870.25 794.27 L871.50 794.25 L872.74 794.22 L873.99 794.20 L875.23 794.18 L876.48 794.16 L877.72 794.14 L878.97 794.12 L880.22 794.10 L881.46 794.07 L882.71 794.05 L883.95 794.03 L885.20 794.01 L886.45 793.99 L887.69 793.97 L888.94 793.95 L890.18 793.93 L891.43 793.91 L892.67 793.89 L893.92 793.87 L895.17 793.85 L896.41 793.83 L897.66 793.81 L898.90 793.79 L900.15 793.77 L901.39 793.75 L902.64 793.73 L903.89 793.71 L905.13 793.69 L906.38 793.67 L907.62 793.65 L908.87 793.63 L910.12 793.61 L911.36 793.59 L912.61 793.57 L913.85 793.55 L915.10 793.53 L916.34 793.51 L917.59 793.49 L918.84 793.47 L920.08 793.45 L921.33 793.43 L922.57 793.41 L923.82 793.40 L925.06 793.38 L926.31 793.36 L927.56 793.34 L928.80 793.32 L930.05 793.30 L931.29 793.28 L932.54 793.26 L933.78 793.25 L935.03 793.23 L936.28 793.21 L937.52 793.19 L938.77 793.17 L940.01 793.16 L941.26 793.14 L942.51 793.12 L943.75 793.10 L945.00 793.08 L946.24 793.07 L947.49 793.05 L948.73 793.03 L949.98 793.01 L951.23 792.99 L952.47 792.98 L953.72 792.96 L954.96 792.94 L956.21 792.92 L957.45 792.91 L958.70 792.89 L959.95 792.87 L961.19 792.86 L962.44 792.84 L963.68 792.82 L964.93 792.80 L966.18 792.79 L967.42 792.77 L968.67 792.75 L969.91 792.74 L971.16 792.72 L972.40 792.70 L973.65 792.69 L974.90 792.67 L976.14 792.65 L977.39 792.64 L978.63 792.62 L979.88 792.60 L981.12 792.59 L982.37 792.57 L983.62 792.56 L984.86 792.54 L986.11 792.52 L987.35 792.51 L988.60 792.49 L989.84 792.48 L991.09 792.46 L992.34 792.44 L993.58 792.43 L994.83 792.41 L996.07 792.40 L997.32 792.38 L998.57 792.36 L999.81 792.35 L1001.06 792.33 L1002.30 792.32 L1003.55 792.30 L1004.79 792.29 L1006.04 792.27 L1007.29 792.26 L1008.53 792.24 L1009.78 792.23 L1011.02 792.21 L1012.27 792.20 L1013.51 792.18 L1014.76 792.17 L1016.01 792.15 L1017.25 792.14 L1018.50 792.12 L1019.74 792.11 L1020.99 792.09 L1022.24 792.08 L1023.48 792.06 L1024.73 792.05 L1025.97 792.03 L1027.22 792.02 L1028.46 792.00 L1029.71 791.99 L1030.96 791.97 L1032.20 791.96 L1033.45 791.94 L1034.69 791.93 L1035.94 791.92 L1037.18 791.90 L1038.43 791.89 L1039.68 791.87 L1040.92 791.86 L1042.17 791.84 L1043.41 791.83 L1044.66 791.82 L1045.91 791.80 L1047.15 791.79 L1048.40 791.77 L1049.64 791.76 L1050.89 791.75 L1052.13 791.73 L1052.96 791.72" stroke="#ff0000" stroke-width="4.5" fill="none" stroke-dasharray="28 29.5"/>
<path d="M1052.96 791.72 L1053.38 791.72 L1054.63 791.71 L1055.87 791.69 L1057.12 791.68 L1058.36 791.66 L1059.61 791.65 L1060.85 791.64 L1062.10 791.62 L1063.35 791.61 L1064.59 791.60 L1065.84 791.58 L1067.08 791.57 L1068.33 791.56 L1069.57 791.54 L1070.82 791.53 L1072.07 791.52 L1073.31 791.50 L1074.56 791.49 L1075.80 791.48 L1077.05 791.46 L1078.30 791.45 L1079.54 791.44 L1080.79 791.43 L1082.03 791.41 L1083.28 791.40 L1084.52 791.39 L1085.77 791.37 L1087.02 791.36 L1088.26 791.35 L1089.51 791.34 L1090.75 791.32 L1092.00 791.31 L1093.24 791.30 L1094.49 791.29 L1095.74 791.27 L1096.98 791.26 L1098.23 791.25 L1099.47 791.23 L1100.72 791.22 L1101.97 791.21 L1103.21 791.20 L1104.46 791.19 L1105.70 791.17 L1106.95 791.16 L1108.19 791.15 L1109.44 791.14 L1110.69 791.12 L1111.93 791.11 L1113.18 791.10 L1114.42 791.09 L1115.67 791.08 L1116.91 791.06 L1118.16 791.05 L1119.41 791.04 L1120.65 791.03 L1121.90 791.02 L1123.14 791.00 L1124.39 790.99 L1125.63 790.98 L1126.88 790.97 L1128.13 790.96 L1129.37 790.95 L1130.62 790.93 L1131.86 790.92 L1133.11 790.91 L1134.36 790.90 L1135.60 790.89 L1136.85 790.88 L1138.09 790.86 L1139.34 790.85 L1140.58 790.84 L1141.83 790.83 L1143.08 790.82 L1144.32 790.81 L1145.57 790.80 L1146.81 790.78 L1148.06 790.77 L1149.30 790.76 L1150.55 790.75 L1151.80 790.74 L1153.04 790.73 L1154.29 790.72 L1155.53 790.71 L1156.78 790.70 L1158.03 790.68 L1159.27 790.67 L1160.52 790.66 L1161.76 790.65 L1163.01 790.64 L1164.25 790.63 L1165.50 790.62 L1166.75 790.61 L1167.99 790.60 L1169.24 790.59 L1170.48 790.58 L1171.73 790.57 L1172.97 790.55 L1174.22 790.54 L1175.47 790.53 L1176.71 790.52 L1177.96 790.51 L1179.20 790.50 L1180.45 790.49 L1181.70 790.48 L1182.94 790.47 L1184.19 790.46 L1185.43 790.45 L1186.68 790.44 L1187.92 790.43 L1189.17 790.42 L1190.42 790.41 L1191.66 790.40 L1192.91 790.39 L1194.15 790.38 L1195.40 790.37 L1196.64 790.36 L1197.89 790.35 L1199.14 790.34 L1200.38 790.33 L1201.63 790.32 L1202.87 790.31 L1204.12 790.30 L1205.36 790.29 L1206.61 790.28 L1207.86 790.27 L1209.10 790.26 L1210.35 790.25 L1211.59 790.24 L1212.84 790.23 L1214.09 790.22 L1215.33 790.21 L1216.58 790.20 L1217.82 790.19 L1219.07 790.18 L1220.31 790.17 L1221.56 790.16 L1222.81 790.15 L1224.05 790.14 L1225.30 790.13 L1226.54 790.12 L1227.79 790.11 L1229.03 790.10 L1230.28 790.09 L1231.53 790.08 L1232.77 790.07 L1234.02 790.06 L1235.26 790.05 L1236.51 790.04 L1237.76 790.03 L1239.00 790.02 L1240.25 790.01 L1241.49 790.00 L1242.74 789.99 L1243.98 789.99 L1245.23 789.98 L1246.48 789.97 L1247.72 789.96 L1248.97 789.95 L1250.21 789.94 L1251.46 789.93 L1252.70 789.92 L1253.95 789.91 L1255.20 789.90 L1256.44 789.89 L1257.69 789.88 L1258.93 789.87 L1260.18 789.87 L1261.43 789.86 L1262.67 789.85 L1263.92 789.84 L1265.16 789.83 L1266.41 789.82 L1267.65 789.81 L1268.90 789.80 L1270.15 789.79 L1271.39 789.78 L1272.64 789.78 L1273.88 789.77 L1275.13 789.76 L1276.37 789.75 L1277.62 789.74 L1278.87 789.73 L1280.11 789.72 L1281.36 789.71 L1282.60 789.71 L1283.85 789.70 L1285.09 789.69 L1286.34 789.68 L1287.59 789.67 L1288.83 789.66 L1290.08 789.65 L1291.32 789.65 L1292.57 789.64 L1293.82 789.63 L1295.06 789.62 L1296.31 789.61 L1297.55 789.60 L1298.80 789.59 L1300.04 789.59 L1301.29 789.58 L1302.54 789.57 L1303.78 789.56 L1305.03 789.55 L1306.27 789.54 L1307.52 789.54 L1308.76 789.53 L1310.01 789.52 L1311.26 789.51 L1312.50 789.50 L1313.75 789.49 L1314.99 789.49 L1316.24 789.48 L1317.49 789.47 L1318.73 789.46 L1319.98 789.45 L1321.22 789.45 L1322.47 789.44 L1323.71 789.43 L1324.96 789.42 L1326.21 789.41 L1327.45 789.40 L1328.70 789.40 L1329.94 789.39 L1331.19 789.38 L1332.43 789.37 L1333.68 789.36 L1334.93 789.36 L1336.17 789.35 L1337.42 789.34 L1338.66 789.33 L1339.91 789.33 L1341.15 789.32 L1342.40 789.31 L1343.65 789.30 L1344.89 789.29 L1346.14 789.29 L1347.38 789.28 L1348.63 789.27 L1349.88 789.26 L1351.12 789.25 L1352.37 789.25 L1353.61 789.24 L1354.86 789.23 L1356.10 789.22 L1357.35 789.22 L1358.60 789.21 L1359.84 789.20 L1361.09 789.19 L1362.33 789.19 L1363.58 789.18 L1364.82 789.17 L1366.07 789.16 L1367.32 789.16 L1368.56 789.15 L1369.81 789.14 L1371.05 789.13 L1372.30 789.13 L1373.55 789.12 L1374.79 789.11 L1376.04 789.10 L1377.28 789.10 L1378.53 789.09 L1379.77 789.08 L1381.02 789.07 L1382.27 789.07 L1383.51 789.06 L1384.76 789.05 L1386.00 789.04 L1387.25 789.04 L1388.49 789.03 L1389.74 789.02 L1390.99 789.02 L1392.23 789.01 L1393.48 789.00 L1394.72 788.99 L1395.97 788.99 L1397.22 788.98 L1398.46 788.97 L1399.71 788.97 L1400.95 788.96 L1402.20 788.95 L1403.44 788.94 L1404.69 788.94 L1405.94 788.93 L1407.18 788.92 L1408.43 788.92 L1409.67 788.91 L1410.92 788.90 L1412.16 788.90 L1413.41 788.89 L1414.66 788.88 L1415.90 788.87 L1417.15 788.87 L1418.39 788.86 L1419.64 788.85 L1420.88 788.85 L1422.13 788.84 L1423.38 788.83 L1424.62 788.83 L1425.87 788.82 L1427.11 788.81 L1428.36 788.81 L1429.61 788.80 L1430.85 788.79 L1432.10 788.79 L1433.34 788.78 L1434.59 788.77 L1435.83 788.76 L1437.08 788.76" stroke="#ff0000" stroke-width="4.5" fill="none" stroke-dasharray="28 29.5"/>
<path d="M191.30 1113.50 L192.55 442.21 L193.79 417.92 L195.04 403.71 L196.28 393.63 L197.53 385.81 L198.77 379.42 L200.02 374.02 L201.27 369.34 L202.51 365.22 L203.76 361.52 L205.00 358.19 L206.25 355.14 L207.50 352.33 L208.74 349.74 L209.99 347.32 L211.23 345.06 L212.48 342.93 L213.72 340.93 L214.97 339.03 L216.22 337.24 L217.46 335.53 L218.71 333.90 L219.95 332.34 L221.20 330.85 L222.44 329.42 L223.69 328.04 L224.94 326.72 L226.18 325.45 L227.43 324.22 L228.67 323.03 L229.92 321.88 L231.16 320.77 L232.41 319.69 L233.66 318.64 L234.90 317.63 L236.15 316.64 L237.39 315.68 L238.64 314.75 L239.89 313.84 L241.13 312.95 L242.38 312.09 L243.62 311.24 L244.87 310.42 L246.11 309.61 L247.36 308.82 L248.61 308.05 L249.85 307.30 L251.10 306.56 L252.34 305.84 L253.59 305.13 L254.83 304.44 L256.08 303.76 L257.33 303.09 L258.57 302.43 L259.82 301.79 L261.06 301.16 L262.31 300.54 L263.56 299.93 L264.80 299.33 L266.05 298.74 L267.29 298.16 L268.54 297.59 L269.78 297.03 L271.03 296.48 L272.28 295.94 L273.52 295.40 L274.77 294.88 L276.01 294.36 L277.26 293.85 L278.50 293.34 L279.75 292.84 L281.00 292.35 L282.24 291.87 L283.49 291.39 L284.73 290.92 L285.98 290.46 L287.23 290.00 L288.47 289.55 L289.72 289.10 L290.96 288.66 L292.21 288.23 L293.45 287.80 L294.70 287.37 L295.95 286.95 L297.19 286.54 L298.44 286.13 L299.68 285.72 L300.93 285.32 L302.17 284.93 L303.42 284.54 L304.67 284.15 L305.91 283.77 L307.16 283.39 L308.40 283.01 L309.65 282.64 L310.89 282.27 L312.14 281.91 L313.39 281.55 L314.63 281.20 L315.88 280.84 L317.12 280.50 L318.37 280.15 L319.62 279.81 L320.86 279.47 L322.11 279.13 L323.35 278.80 L324.60 278.47 L325.84 278.15 L327.09 277.82 L328.34 277.50 L329.58 277.19 L330.83 276.87 L332.07 276.56 L333.32 276.25 L334.56 275.95 L335.81 275.64 L337.06 275.34 L338.30 275.04 L339.55 274.75 L340.79 274.46 L342.04 274.16 L343.29 273.88 L344.53 273.59 L345.78 273.31 L347.02 273.03 L348.27 272.75 L349.51 272.47 L350.76 272.19 L352.01 271.92 L353.25 271.65 L354.50 271.38 L355.74 271.12 L356.99 270.85 L358.23 270.59 L359.48 270.33 L360.73 270.07 L361.97 269.81 L363.22 269.56 L364.46 269.31 L365.71 269.05 L366.95 268.80 L368.20 268.56 L369.45 268.31 L370.69 268.07 L371.94 267.82 L373.18 267.58 L374.43 267.34 L375.68 267.11 L376.92 266.87 L378.17 266.64 L379.41 266.40 L380.66 266.17 L381.90 265.94 L383.15 265.71 L384.40 265.49 L385.64 265.26 L386.89 265.04 L388.13 264.82 L389.38 264.60 L390.62 264.38 L391.87 264.16 L393.12 263.94 L394.36 263.72 L395.61 263.51 L396.85 263.30 L398.10 263.09 L399.35 262.88 L400.59 262.67 L401.84 262.46 L403.08 262.25 L404.33 262.05 L405.57 261.84 L406.82 261.64 L408.07 261.44 L409.31 261.24 L410.56 261.04 L411.80 260.84 L413.05 260.64 L414.29 260.44 L415.54 260.25 L416.79 260.05 L418.03 259.86 L419.28 259.67 L420.52 259.48 L421.77 259.29 L423.02 259.10 L424.26 258.91 L425.51 258.72 L426.75 258.54 L428.00 258.35 L429.24 258.17 L430.49 257.99 L431.74 257.81 L432.98 257.62 L434.23 257.44 L435.47 257.26 L436.72 257.09 L437.96 256.91 L439.21 256.73 L440.46 256.56 L441.70 256.38 L442.95 256.21 L444.19 256.04 L445.44 255.86 L446.68 255.69 L447.93 255.52 L449.18 255.35 L450.42 255.18 L451.67 255.01 L452.91 254.85 L454.16 254.68 L455.41 254.52 L456.65 254.35 L457.90 254.19 L459.14 254.02 L460.39 253.86 L461.63 253.70 L462.88 253.54 L464.13 253.38 L465.37 253.22 L466.62 253.06 L467.86 252.90 L469.11 252.74 L470.35 252.59 L471.60 252.43 L472.85 252.27 L474.09 252.12 L475.34 251.97 L476.58 251.81 L477.83 251.66 L479.08 251.51 L480.32 251.36 L481.57 251.21 L482.81 251.06 L484.06 250.91 L485.30 250.76 L486.55 250.61 L487.80 250.46 L489.04 250.31 L490.29 250.17 L491.53 250.02 L492.78 249.88 L494.02 249.73 L495.27 249.59 L496.52 249.45 L497.76 249.30 L499.01 249.16 L500.25 249.02 L501.50 248.88 L502.75 248.74 L503.99 248.60 L505.24 248.46 L506.48 248.32 L507.73 248.18 L508.97 248.04 L510.22 247.91 L511.47 247.77 L512.71 247.63 L513.96 247.50 L515.20 247.36 L516.45 247.23 L517.69 247.10 L518.94 246.96 L520.19 246.83 L521.43 246.70 L522.68 246.56 L523.92 246.43 L525.17 246.30 L526.41 246.17 L527.66 246.04 L528.91 245.91 L530.15 245.78 L531.40 245.65 L532.64 245.53 L533.89 245.40 L535.14 245.27 L536.38 245.14 L537.63 245.02 L538.87 244.89 L540.12 244.77 L541.36 244.64 L542.61 244.52 L543.86 244.39 L545.10 244.27 L546.35 244.15 L547.59 244.02 L548.84 243.90 L550.08 243.78 L551.33 243.66 L552.58 243.54 L553.82 243.42 L555.07 243.30 L556.31 243.18 L557.56 243.06 L558.81 242.94 L560.05 242.82 L561.30 242.70 L562.54 242.58 L563.79 242.47 L565.03 242.35 L566.28 242.23 L567.53 242.12 L568.77 242.00 L570.02 241.89 L571.26 241.77 L572.51 241.66 L573.75 241.54 L575.00 241.43 L576.25 241.31 L577.49 241.20 L578.74 241.09 L579.98 240.98 L581.23 240.86 L582.47 240.75 L583.72 240.64 L584.97 240.53 L586.21 240.42 L587.46 240.31 L588.70 240.20 L589.95 240.09 L591.20 239.98 L592.44 239.87 L593.69 239.76 L594.93 239.65 L596.18 239.54 L597.42 239.44 L598.67 239.33 L599.92 239.22 L601.16 239.12 L602.41 239.01 L603.65 238.90 L604.90 238.80 L606.14 238.69 L607.39 238.59 L608.64 238.48 L609.88 238.38 L611.13 238.27 L612.37 238.17 L613.62 238.07 L614.87 237.96 L616.11 237.86 L617.36 237.76 L618.60 237.66 L619.85 237.55 L621.09 237.45 L622.34 237.35 L623.59 237.25 L624.83 237.15 L626.08 237.05 L627.32 236.95 L628.57 236.85 L629.81 236.75 L631.06 236.65 L632.31 236.55 L633.55 236.45 L634.80 236.35 L636.04 236.25 L637.29 236.16 L638.54 236.06 L639.78 235.96 L641.03 235.86 L642.27 235.77 L643.52 235.67 L644.76 235.57 L646.01 235.48 L647.26 235.38 L648.50 235.29 L649.75 235.19 L650.99 235.10 L652.24 235.00 L653.48 234.91 L654.73 234.81 L655.98 234.72 L657.22 234.62 L658.47 234.53 L659.71 234.44 L660.96 234.34 L662.20 234.25 L663.45 234.16 L664.70 234.07 L665.94 233.97 L667.19 233.88 L668.43 233.79 L669.68 233.70 L670.93 233.61 L672.17 233.52 L673.42 233.43 L674.66 233.34 L675.91 233.25 L677.15 233.16 L678.40 233.07 L679.65 232.98 L680.89 232.89 L682.14 232.80 L683.38 232.71 L684.63 232.62 L685.87 232.53 L687.12 232.45 L688.37 232.36 L689.61 232.27 L690.86 232.18 L692.10 232.09 L693.35 232.01 L694.60 231.92 L695.84 231.83 L697.09 231.75 L698.33 231.66 L699.58 231.58 L700.82 231.49 L702.07 231.40 L703.32 231.32 L704.56 231.23 L705.81 231.15 L707.05 231.06 L708.30 230.98 L709.54 230.90 L710.79 230.81 L712.04 230.73 L713.28 230.64 L714.53 230.56 L715.77 230.48 L717.02 230.39 L718.26 230.31 L719.51 230.23 L720.76 230.15 L722.00 230.06 L723.25 229.98 L724.49 229.90 L725.74 229.82 L726.99 229.74 L728.23 229.65 L729.48 229.57 L730.72 229.49 L731.97 229.41 L733.21 229.33 L734.46 229.25 L735.71 229.17 L736.95 229.09 L738.20 229.01 L739.44 228.93 L740.69 228.85 L741.93 228.77 L743.18 228.69 L744.43 228.61 L745.67 228.53 L746.92 228.46 L748.16 228.38 L749.41 228.30 L750.66 228.22 L751.90 228.14 L753.15 228.06 L754.39 227.99 L755.64 227.91 L756.88 227.83 L758.13 227.76 L759.38 227.68 L760.62 227.60 L761.87 227.52 L763.11 227.45 L764.36 227.37 L765.60 227.30 L766.85 227.22 L768.10 227.14 L769.34 227.07 L770.59 226.99 L771.83 226.92 L773.08 226.84 L774.33 226.77 L775.57 226.69 L776.82 226.62 L778.06 226.54 L779.31 226.47 L780.55 226.40 L781.80 226.32 L783.05 226.25 L784.29 226.17 L785.54 226.10 L786.78 226.03 L788.03 225.95 L789.27 225.88 L790.52 225.81 L791.77 225.74 L793.01 225.66 L794.26 225.59 L795.50 225.52 L796.75 225.45 L797.99 225.37 L799.24 225.30 L800.49 225.23 L801.73 225.16 L802.98 225.09 L804.22 225.02 L805.47 224.94 L806.72 224.87 L807.96 224.80 L809.21 224.73 L810.45 224.66 L811.70 224.59 L812.94 224.52 L814.19 224.45 L815.44 224.38 L816.68 224.31 L817.93 224.24 L819.17 224.17 L820.42 224.10 L821.66 224.03 L822.91 223.96 L824.16 223.89 L825.40 223.83 L826.65 223.76 L827.89 223.69 L829.14 223.62 L830.39 223.55 L831.63 223.48 L832.88 223.41 L834.12 223.35 L835.37 223.28 L836.61 223.21 L837.86 223.14 L839.11 223.08 L840.35 223.01 L841.60 222.94 L842.84 222.87 L844.09 222.81 L845.33 222.74 L846.58 222.67 L847.83 222.61 L849.07 222.54 L850.32 222.48 L851.56 222.41 L852.81 222.34 L854.05 222.28 L855.30 222.21 L856.55 222.15 L857.79 222.08 L859.04 222.01 L860.28 221.95 L861.53 221.88 L862.78 221.82 L864.02 221.75 L865.27 221.69 L866.51 221.62 L867.76 221.56 L869.00 221.50 L870.25 221.43 L871.50 221.37 L872.74 221.30 L873.99 221.24 L875.23 221.17 L876.48 221.11 L877.72 221.05 L878.97 220.98 L880.22 220.92 L881.46 220.86 L882.71 220.79 L883.95 220.73 L885.20 220.67 L886.45 220.61 L887.69 220.54 L888.94 220.48 L890.18 220.42 L891.43 220.35 L892.67 220.29 L893.92 220.23 L895.17 220.17 L896.41 220.11 L897.66 220.04 L898.90 219.98 L900.15 219.92 L901.39 219.86 L902.64 219.80 L903.89 219.74 L905.13 219.68 L906.38 219.61 L907.62 219.55 L908.87 219.49 L910.12 219.43 L911.36 219.37 L912.61 219.31 L913.85 219.25 L915.10 219.19 L916.34 219.13 L917.59 219.07 L918.84 219.01 L920.08 218.95 L921.33 218.89 L922.57 218.83 L923.82 218.77 L925.06 218.71 L926.31 218.65 L927.56 218.59 L928.80 218.53 L930.05 218.47 L931.29 218.41 L932.54 218.36 L933.78 218.30 L935.03 218.24 L936.28 218.18 L937.52 218.12 L938.77 218.06 L940.01 218.00 L941.26 217.95 L942.51 217.89 L943.75 217.83 L945.00 217.77 L946.24 217.71 L947.49 217.66 L948.73 217.60 L949.98 217.54 L951.23 217.48 L952.47 217.43 L953.72 217.37 L954.96 217.31 L956.21 217.25 L957.45 217.20 L958.70 217.14 L959.95 217.08 L961.19 217.03 L962.44 216.97 L963.68 216.91 L964.93 216.86 L966.18 216.80 L967.42 216.74 L968.67 216.69 L969.91 216.63 L971.16 216.58 L972.40 216.52 L973.65 216.46 L974.90 216.41 L976.14 216.35 L977.39 216.30 L978.63 216.24 L979.88 216.19 L981.12 216.13 L982.37 216.08 L983.62 216.02 L984.86 215.97 L986.11 215.91 L987.35 215.86 L988.60 215.80 L989.84 215.75 L991.09 215.69 L992.34 215.64 L993.58 215.58 L994.83 215.53 L996.07 215.47 L997.32 215.42 L998.57 215.37 L999.81 215.31 L1001.06 215.26 L1002.30 215.20 L1003.55 215.15 L1004.79 215.10 L1006.04 215.04 L1007.29 214.99 L1008.53 214.94 L1009.78 214.88 L1011.02 214.83 L1012.27 214.78 L1013.51 214.72 L1014.76 214.67 L1016.01 214.62 L1017.25 214.56 L1018.50 214.51 L1019.74 214.46 L1020.99 214.41 L1022.24 214.35 L1023.48 214.30 L1024.73 214.25 L1025.97 214.20 L1027.22 214.14 L1028.46 214.09 L1029.71 214.04 L1030.96 213.99 L1032.20 213.94 L1033.45 213.88 L1034.69 213.83 L1035.94 213.78 L1037.18 213.73 L1038.43 213.68 L1039.68 213.63 L1040.92 213.57 L1042.17 213.52 L1043.41 213.47 L1044.66 213.42 L1045.91 213.37 L1047.15 213.32 L1048.40 213.27 L1049.64 213.22 L1050.89 213.17 L1052.13 213.11 L1052.96 213.08" stroke="#0000ff" stroke-width="6.5" fill="none" stroke-linecap="round" stroke-dasharray="3 39.5" stroke-dashoffset="-2.5"/>
<path d="M1052.96 213.08 L1053.38 213.06 L1054.63 213.01 L1055.87 212.96 L1057.12 212.91 L1058.36 212.86 L1059.61 212.81 L1060.85 212.76 L1062.10 212.71 L1063.35 212.66 L1064.59 212.61 L1065.84 212.56 L1067.08 212.51 L1068.33 212.46 L1069.57 212.41 L1070.82 212.36 L1072.07 212.31 L1073.31 212.26 L1074.56 212.21 L1075.80 212.16 L1077.05 212.11 L1078.30 212.07 L1079.54 212.02 L1080.79 211.97 L1082.03 211.92 L1083.28 211.87 L1084.52 211.82 L1085.77 211.77 L1087.02 211.72 L1088.26 211.67 L1089.51 211.63 L1090.75 211.58 L1092.00 211.53 L1093.24 211.48 L1094.49 211.43 L1095.74 211.38 L1096.98 211.33 L1098.23 211.29 L1099.47 211.24 L1100.72 211.19 L1101.97 211.14 L1103.21 211.09 L1104.46 211.05 L1105.70 211.00 L1106.95 210.95 L1108.19 210.90 L1109.44 210.86 L1110.69 210.81 L1111.93 210.76 L1113.18 210.71 L1114.42 210.67 L1115.67 210.62 L1116.91 210.57 L1118.16 210.52 L1119.41 210.48 L1120.65 210.43 L1121.90 210.38 L1123.14 210.34 L1124.39 210.29 L1125.63 210.24 L1126.88 210.20 L1128.13 210.15 L1129.37 210.10 L1130.62 210.06 L1131.86 210.01 L1133.11 209.96 L1134.36 209.92 L1135.60 209.87 L1136.85 209.83 L1138.09 209.78 L1139.34 209.73 L1140.58 209.69 L1141.83 209.64 L1143.08 209.60 L1144.32 209.55 L1145.57 209.50 L1146.81 209.46 L1148.06 209.41 L1149.30 209.37 L1150.55 209.32 L1151.80 209.28 L1153.04 209.23 L1154.29 209.19 L1155.53 209.14 L1156.78 209.09 L1158.03 209.05 L1159.27 209.00 L1160.52 208.96 L1161.76 208.91 L1163.01 208.87 L1164.25 208.82 L1165.50 208.78 L1166.75 208.73 L1167.99 208.69 L1169.24 208.65 L1170.48 208.60 L1171.73 208.56 L1172.97 208.51 L1174.22 208.47 L1175.47 208.42 L1176.71 208.38 L1177.96 208.33 L1179.20 208.29 L1180.45 208.25 L1181.70 208.20 L1182.94 208.16 L1184.19 208.11 L1185.43 208.07 L1186.68 208.03 L1187.92 207.98 L1189.17 207.94 L1190.42 207.89 L1191.66 207.85 L1192.91 207.81 L1194.15 207.76 L1195.40 207.72 L1196.64 207.68 L1197.89 207.63 L1199.14 207.59 L1200.38 207.55 L1201.63 207.50 L1202.87 207.46 L1204.12 207.42 L1205.36 207.37 L1206.61 207.33 L1207.86 207.29 L1209.10 207.25 L1210.35 207.20 L1211.59 207.16 L1212.84 207.12 L1214.09 207.07 L1215.33 207.03 L1216.58 206.99 L1217.82 206.95 L1219.07 206.90 L1220.31 206.86 L1221.56 206.82 L1222.81 206.78 L1224.05 206.73 L1225.30 206.69 L1226.54 206.65 L1227.79 206.61 L1229.03 206.57 L1230.28 206.52 L1231.53 206.48 L1232.77 206.44 L1234.02 206.40 L1235.26 206.36 L1236.51 206.31 L1237.76 206.27 L1239.00 206.23 L1240.25 206.19 L1241.49 206.15 L1242.74 206.11 L1243.98 206.06 L1245.23 206.02 L1246.48 205.98 L1247.72 205.94 L1248.97 205.90 L1250.21 205.86 L1251.46 205.82 L1252.70 205.78 L1253.95 205.73 L1255.20 205.69 L1256.44 205.65 L1257.69 205.61 L1258.93 205.57 L1260.18 205.53 L1261.43 205.49 L1262.67 205.45 L1263.92 205.41 L1265.16 205.37 L1266.41 205.33 L1267.65 205.29 L1268.90 205.24 L1270.15 205.20 L1271.39 205.16 L1272.64 205.12 L1273.88 205.08 L1275.13 205.04 L1276.37 205.00 L1277.62 204.96 L1278.87 204.92 L1280.11 204.88 L1281.36 204.84 L1282.60 204.80 L1283.85 204.76 L1285.09 204.72 L1286.34 204.68 L1287.59 204.64 L1288.83 204.60 L1290.08 204.56 L1291.32 204.52 L1292.57 204.48 L1293.82 204.44 L1295.06 204.40 L1296.31 204.36 L1297.55 204.33 L1298.80 204.29 L1300.04 204.25 L1301.29 204.21 L1302.54 204.17 L1303.78 204.13 L1305.03 204.09 L1306.27 204.05 L1307.52 204.01 L1308.76 203.97 L1310.01 203.93 L1311.26 203.89 L1312.50 203.86 L1313.75 203.82 L1314.99 203.78 L1316.24 203.74 L1317.49 203.70 L1318.73 203.66 L1319.98 203.62 L1321.22 203.58 L1322.47 203.54 L1323.71 203.51 L1324.96 203.47 L1326.21 203.43 L1327.45 203.39 L1328.70 203.35 L1329.94 203.31 L1331.19 203.28 L1332.43 203.24 L1333.68 203.20 L1334.93 203.16 L1336.17 203.12 L1337.42 203.08 L1338.66 203.05 L1339.91 203.01 L1341.15 202.97 L1342.40 202.93 L1343.65 202.89 L1344.89 202.86 L1346.14 202.82 L1347.38 202.78 L1348.63 202.74 L1349.88 202.71 L1351.12 202.67 L1352.37 202.63 L1353.61 202.59 L1354.86 202.56 L1356.10 202.52 L1357.35 202.48 L1358.60 202.44 L1359.84 202.41 L1361.09 202.37 L1362.33 202.33 L1363.58 202.29 L1364.82 202.26 L1366.07 202.22 L1367.32 202.18 L1368.56 202.15 L1369.81 202.11 L1371.05 202.07 L1372.30 202.03 L1373.55 202.00 L1374.79 201.96 L1376.04 201.92 L1377.28 201.89 L1378.53 201.85 L1379.77 201.81 L1381.02 201.78 L1382.27 201.74 L1383.51 201.70 L1384.76 201.67 L1386.00 201.63 L1387.25 201.59 L1388.49 201.56 L1389.74 201.52 L1390.99 201.48 L1392.23 201.45 L1393.48 201.41 L1394.72 201.38 L1395.97 201.34 L1397.22 201.30 L1398.46 201.27 L1399.71 201.23 L1400.95 201.19 L1402.20 201.16 L1403.44 201.12 L1404.69 201.09 L1405.94 201.05 L1407.18 201.01 L1408.43 200.98 L1409.67 200.94 L1410.92 200.91 L1412.16 200.87 L1413.41 200.84 L1414.66 200.80 L1415.90 200.76 L1417.15 200.73 L1418.39 200.69 L1419.64 200.66 L1420.88 200.62 L1422.13 200.59 L1423.38 200.55 L1424.62 200.52 L1425.87 200.48 L1427.11 200.44 L1428.36 200.41 L1429.61 200.37 L1430.85 200.34 L1432.10 200.30 L1433.34 200.27 L1434.59 200.23 L1435.83 200.20 L1437.08 200.16" stroke="#0000ff" stroke-width="6.5" fill="none" stroke-linecap="round" stroke-dasharray="3 39.5" stroke-dashoffset="-2.5"/>
<path d="M191.30 1113.50 L192.55 1053.70 L193.79 1029.53 L195.04 1014.12 L196.28 1002.78 L197.53 993.81 L198.77 986.38 L200.02 980.04 L201.27 974.52 L202.51 969.62 L203.76 965.22 L205.00 961.23 L206.25 957.57 L207.50 954.20 L208.74 951.08 L209.99 948.16 L211.23 945.43 L212.48 942.86 L213.72 940.44 L214.97 938.14 L216.22 935.96 L217.46 933.89 L218.71 931.91 L219.95 930.01 L221.20 928.20 L222.44 926.46 L223.69 924.79 L224.94 923.18 L226.18 921.62 L227.43 920.12 L228.67 918.67 L229.92 917.27 L231.16 915.91 L232.41 914.60 L233.66 913.32 L234.90 912.08 L236.15 910.87 L237.39 909.70 L238.64 908.56 L239.89 907.44 L241.13 906.36 L242.38 905.30 L243.62 904.26 L244.87 903.26 L246.11 902.27 L247.36 901.31 L248.61 900.36 L249.85 899.44 L251.10 898.54 L252.34 897.65 L253.59 896.78 L254.83 895.93 L256.08 895.10 L257.33 894.28 L258.57 893.48 L259.82 892.69 L261.06 891.91 L262.31 891.15 L263.56 890.41 L264.80 889.67 L266.05 888.95 L267.29 888.24 L268.54 887.54 L269.78 886.85 L271.03 886.17 L272.28 885.51 L273.52 884.85 L274.77 884.20 L276.01 883.57 L277.26 882.94 L278.50 882.32 L279.75 881.71 L281.00 881.11 L282.24 880.51 L283.49 879.93 L284.73 879.35 L285.98 878.78 L287.23 878.22 L288.47 877.66 L289.72 877.11 L290.96 876.57 L292.21 876.04 L293.45 875.51 L294.70 874.99 L295.95 874.47 L297.19 873.96 L298.44 873.46 L299.68 872.96 L300.93 872.47 L302.17 871.98 L303.42 871.50 L304.67 871.03 L305.91 870.55 L307.16 870.09 L308.40 869.63 L309.65 869.17 L310.89 868.72 L312.14 868.28 L313.39 867.83 L314.63 867.40 L315.88 866.96 L317.12 866.53 L318.37 866.11 L319.62 865.69 L320.86 865.27 L322.11 864.86 L323.35 864.45 L324.60 864.05 L325.84 863.65 L327.09 863.25 L328.34 862.86 L329.58 862.47 L330.83 862.08 L332.07 861.70 L333.32 861.32 L334.56 860.94 L335.81 860.57 L337.06 860.20 L338.30 859.83 L339.55 859.47 L340.79 859.11 L342.04 858.75 L343.29 858.39 L344.53 858.04 L345.78 857.69 L347.02 857.35 L348.27 857.00 L349.51 856.66 L350.76 856.32 L352.01 855.99 L353.25 855.65 L354.50 855.32 L355.74 855.00 L356.99 854.67 L358.23 854.35 L359.48 854.03 L360.73 853.71 L361.97 853.39 L363.22 853.08 L364.46 852.77 L365.71 852.46 L366.95 852.15 L368.20 851.85 L369.45 851.54 L370.69 851.24 L371.94 850.95 L373.18 850.65 L374.43 850.35 L375.68 850.06 L376.92 849.77 L378.17 849.48 L379.41 849.20 L380.66 848.91 L381.90 848.63 L383.15 848.35 L384.40 848.07 L385.64 847.79 L386.89 847.52 L388.13 847.24 L389.38 846.97 L390.62 846.70 L391.87 846.43 L393.12 846.16 L394.36 845.90 L395.61 845.63 L396.85 845.37 L398.10 845.11 L399.35 844.85 L400.59 844.59 L401.84 844.34 L403.08 844.08 L404.33 843.83 L405.57 843.58 L406.82 843.33 L408.07 843.08 L409.31 842.83 L410.56 842.59 L411.80 842.34 L413.05 842.10 L414.29 841.86 L415.54 841.62 L416.79 841.38 L418.03 841.14 L419.28 840.90 L420.52 840.67 L421.77 840.44 L423.02 840.20 L424.26 839.97 L425.51 839.74 L426.75 839.51 L428.00 839.28 L429.24 839.06 L430.49 838.83 L431.74 838.61 L432.98 838.39 L434.23 838.16 L435.47 837.94 L436.72 837.72 L437.96 837.51 L439.21 837.29 L440.46 837.07 L441.70 836.86 L442.95 836.64 L444.19 836.43 L445.44 836.22 L446.68 836.01 L447.93 835.80 L449.18 835.59 L450.42 835.38 L451.67 835.17 L452.91 834.97 L454.16 834.76 L455.41 834.56 L456.65 834.35 L457.90 834.15 L459.14 833.95 L460.39 833.75 L461.63 833.55 L462.88 833.35 L464.13 833.15 L465.37 832.96 L466.62 832.76 L467.86 832.57 L469.11 832.37 L470.35 832.18 L471.60 831.99 L472.85 831.80 L474.09 831.61 L475.34 831.42 L476.58 831.23 L477.83 831.04 L479.08 830.85 L480.32 830.67 L481.57 830.48 L482.81 830.29 L484.06 830.11 L485.30 829.93 L486.55 829.74 L487.80 829.56 L489.04 829.38 L490.29 829.20 L491.53 829.02 L492.78 828.84 L494.02 828.67 L495.27 828.49 L496.52 828.31 L497.76 828.14 L499.01 827.96 L500.25 827.79 L501.50 827.61 L502.75 827.44 L503.99 827.27 L505.24 827.10 L506.48 826.92 L507.73 826.75 L508.97 826.58 L510.22 826.42 L511.47 826.25 L512.71 826.08 L513.96 825.91 L515.20 825.75 L516.45 825.58 L517.69 825.42 L518.94 825.25 L520.19 825.09 L521.43 824.92 L522.68 824.76 L523.92 824.60 L525.17 824.44 L526.41 824.28 L527.66 824.12 L528.91 823.96 L530.15 823.80 L531.40 823.64 L532.64 823.48 L533.89 823.32 L535.14 823.17 L536.38 823.01 L537.63 822.86 L538.87 822.70 L540.12 822.55 L541.36 822.39 L542.61 822.24 L543.86 822.09 L545.10 821.93 L546.35 821.78 L547.59 821.63 L548.84 821.48 L550.08 821.33 L551.33 821.18 L552.58 821.03 L553.82 820.88 L555.07 820.73 L556.31 820.59 L557.56 820.44 L558.81 820.29 L560.05 820.15 L561.30 820.00 L562.54 819.86 L563.79 819.71 L565.03 819.57 L566.28 819.42 L567.53 819.28 L568.77 819.14 L570.02 819.00 L571.26 818.85 L572.51 818.71 L573.75 818.57 L575.00 818.43 L576.25 818.29 L577.49 818.15 L578.74 818.01 L579.98 817.87 L581.23 817.74 L582.47 817.60 L583.72 817.46 L584.97 817.32 L586.21 817.19 L587.46 817.05 L588.70 816.92 L589.95 816.78 L591.20 816.65 L592.44 816.51 L593.69 816.38 L594.93 816.24 L596.18 816.11 L597.42 815.98 L598.67 815.85 L599.92 815.71 L601.16 815.58 L602.41 815.45 L603.65 815.32 L604.90 815.19 L606.14 815.06 L607.39 814.93 L608.64 814.80 L609.88 814.67 L611.13 814.55 L612.37 814.42 L613.62 814.29 L614.87 814.16 L616.11 814.04 L617.36 813.91 L618.60 813.78 L619.85 813.66 L621.09 813.53 L622.34 813.41 L623.59 813.28 L624.83 813.16 L626.08 813.03 L627.32 812.91 L628.57 812.79 L629.81 812.66 L631.06 812.54 L632.31 812.42 L633.55 812.30 L634.80 812.18 L636.04 812.06 L637.29 811.93 L638.54 811.81 L639.78 811.69 L641.03 811.57 L642.27 811.46 L643.52 811.34 L644.76 811.22 L646.01 811.10 L647.26 810.98 L648.50 810.86 L649.75 810.75 L650.99 810.63 L652.24 810.51 L653.48 810.39 L654.73 810.28 L655.98 810.16 L657.22 810.05 L658.47 809.93 L659.71 809.82 L660.96 809.70 L662.20 809.59 L663.45 809.47 L664.70 809.36 L665.94 809.25 L667.19 809.13 L668.43 809.02 L669.68 808.91 L670.93 808.79 L672.17 808.68 L673.42 808.57 L674.66 808.46 L675.91 808.35 L677.15 808.24 L678.40 808.13 L679.65 808.02 L680.89 807.91 L682.14 807.80 L683.38 807.69 L684.63 807.58 L685.87 807.47 L687.12 807.36 L688.37 807.25 L689.61 807.14 L690.86 807.04 L692.10 806.93 L693.35 806.82 L694.60 806.71 L695.84 806.61 L697.09 806.50 L698.33 806.39 L699.58 806.29 L700.82 806.18 L702.07 806.08 L703.32 805.97 L704.56 805.87 L705.81 805.76 L707.05 805.66 L708.30 805.55 L709.54 805.45 L710.79 805.35 L712.04 805.24 L713.28 805.14 L714.53 805.04 L715.77 804.93 L717.02 804.83 L718.26 804.73 L719.51 804.63 L720.76 804.53 L722.00 804.42 L723.25 804.32 L724.49 804.22 L725.74 804.12 L726.99 804.02 L728.23 803.92 L729.48 803.82 L730.72 803.72 L731.97 803.62 L733.21 803.52 L734.46 803.42 L735.71 803.32 L736.95 803.22 L738.20 803.13 L739.44 803.03 L740.69 802.93 L741.93 802.83 L743.18 802.73 L744.43 802.64 L745.67 802.54 L746.92 802.44 L748.16 802.35 L749.41 802.25 L750.66 802.15 L751.90 802.06 L753.15 801.96 L754.39 801.86 L755.64 801.77 L756.88 801.67 L758.13 801.58 L759.38 801.48 L760.62 801.39 L761.87 801.29 L763.11 801.20 L764.36 801.11 L765.60 801.01 L766.85 800.92 L768.10 800.83 L769.34 800.73 L770.59 800.64 L771.83 800.55 L773.08 800.45 L774.33 800.36 L775.57 800.27 L776.82 800.18 L778.06 800.09 L779.31 799.99 L780.55 799.90 L781.80 799.81 L783.05 799.72 L784.29 799.63 L785.54 799.54 L786.78 799.45 L788.03 799.36 L789.27 799.27 L790.52 799.18 L791.77 799.09 L793.01 799.00 L794.26 798.91 L795.50 798.82 L796.75 798.73 L797.99 798.64 L799.24 798.55 L800.49 798.47 L801.73 798.38 L802.98 798.29 L804.22 798.20 L805.47 798.11 L806.72 798.03 L807.96 797.94 L809.21 797.85 L810.45 797.76 L811.70 797.68 L812.94 797.59 L814.19 797.50 L815.44 797.42 L816.68 797.33 L817.93 797.25 L819.17 797.16 L820.42 797.07 L821.66 796.99 L822.91 796.90 L824.16 796.82 L825.40 796.73 L826.65 796.65 L827.89 796.56 L829.14 796.48 L830.39 796.40 L831.63 796.31 L832.88 796.23 L834.12 796.14 L835.37 796.06 L836.61 795.98 L837.86 795.89 L839.11 795.81 L840.35 795.73 L841.60 795.64 L842.84 795.56 L844.09 795.48 L845.33 795.40 L846.58 795.31 L847.83 795.23 L849.07 795.15 L850.32 795.07 L851.56 794.99 L852.81 794.91 L854.05 794.82 L855.30 794.74 L856.55 794.66 L857.79 794.58 L859.04 794.50 L860.28 794.42 L861.53 794.34 L862.78 794.26 L864.02 794.18 L865.27 794.10 L866.51 794.02 L867.76 793.94 L869.00 793.86 L870.25 793.78 L871.50 793.70 L872.74 793.62 L873.99 793.54 L875.23 793.47 L876.48 793.39 L877.72 793.31 L878.97 793.23 L880.22 793.15 L881.46 793.07 L882.71 793.00 L883.95 792.92 L885.20 792.84 L886.45 792.76 L887.69 792.69 L888.94 792.61 L890.18 792.53 L891.43 792.45 L892.67 792.38 L893.92 792.30 L895.17 792.22 L896.41 792.15 L897.66 792.07 L898.90 792.00 L900.15 791.92 L901.39 791.84 L902.64 791.77 L903.89 791.69 L905.13 791.62 L906.38 791.54 L907.62 791.47 L908.87 791.39 L910.12 791.32 L911.36 791.24 L912.61 791.17 L913.85 791.09 L915.10 791.02 L916.34 790.94 L917.59 790.87 L918.84 790.80 L920.08 790.72 L921.33 790.65 L922.57 790.57 L923.82 790.50 L925.06 790.43 L926.31 790.35 L927.56 790.28 L928.80 790.21 L930.05 790.14 L931.29 790.06 L932.54 789.99 L933.78 789.92 L935.03 789.84 L936.28 789.77 L937.52 789.70 L938.77 789.63 L940.01 789.56 L941.26 789.48 L942.51 789.41 L943.75 789.34 L945.00 789.27 L946.24 789.20 L947.49 789.13 L948.73 789.06 L949.98 788.98 L951.23 788.91 L952.47 788.84 L953.72 788.77 L954.96 788.70 L956.21 788.63 L957.45 788.56 L958.70 788.49 L959.95 788.42 L961.19 788.35 L962.44 788.28 L963.68 788.21 L964.93 788.14 L966.18 788.07 L967.42 788.00 L968.67 787.93 L969.91 787.86 L971.16 787.80 L972.40 787.73 L973.65 787.66 L974.90 787.59 L976.14 787.52 L977.39 787.45 L978.63 787.38 L979.88 787.31 L981.12 787.25 L982.37 787.18 L983.62 787.11 L984.86 787.04 L986.11 786.97 L987.35 786.91 L988.60 786.84 L989.84 786.77 L991.09 786.70 L992.34 786.64 L993.58 786.57 L994.83 786.50 L996.07 786.44 L997.32 786.37 L998.57 786.30 L999.81 786.24 L1001.06 786.17 L1002.30 786.10 L1003.55 786.04 L1004.79 785.97 L1006.04 785.90 L1007.29 785.84 L1008.53 785.77 L1009.78 785.71 L1011.02 785.64 L1012.27 785.58 L1013.51 785.51 L1014.76 785.44 L1016.01 785.38 L1017.25 785.31 L1018.50 785.25 L1019.74 785.18 L1020.99 785.12 L1022.24 785.05 L1023.48 784.99 L1024.73 784.92 L1025.97 784.86 L1027.22 784.80 L1028.46 784.73 L1029.71 784.67 L1030.96 784.60 L1032.20 784.54 L1033.45 784.48 L1034.69 784.41 L1035.94 784.35 L1037.18 784.28 L1038.43 784.22 L1039.68 784.16 L1040.92 784.09 L1042.17 784.03 L1043.41 783.97 L1044.66 783.90 L1045.91 783.84 L1047.15 783.78 L1048.40 783.71 L1049.64 783.65 L1050.89 783.59 L1052.13 783.53 L1052.96 783.49" stroke="#0000ff" stroke-width="6.5" fill="none" stroke-linecap="round" stroke-dasharray="3 39.5" stroke-dashoffset="-2.5"/>
<path d="M1052.96 783.49 L1053.38 783.46 L1054.63 783.40 L1055.87 783.34 L1057.12 783.28 L1058.36 783.22 L1059.61 783.15 L1060.85 783.09 L1062.10 783.03 L1063.35 782.97 L1064.59 782.91 L1065.84 782.84 L1067.08 782.78 L1068.33 782.72 L1069.57 782.66 L1070.82 782.60 L1072.07 782.54 L1073.31 782.48 L1074.56 782.42 L1075.80 782.35 L1077.05 782.29 L1078.30 782.23 L1079.54 782.17 L1080.79 782.11 L1082.03 782.05 L1083.28 781.99 L1084.52 781.93 L1085.77 781.87 L1087.02 781.81 L1088.26 781.75 L1089.51 781.69 L1090.75 781.63 L1092.00 781.57 L1093.24 781.51 L1094.49 781.45 L1095.74 781.39 L1096.98 781.33 L1098.23 781.27 L1099.47 781.21 L1100.72 781.15 L1101.97 781.10 L1103.21 781.04 L1104.46 780.98 L1105.70 780.92 L1106.95 780.86 L1108.19 780.80 L1109.44 780.74 L1110.69 780.68 L1111.93 780.63 L1113.18 780.57 L1114.42 780.51 L1115.67 780.45 L1116.91 780.39 L1118.16 780.33 L1119.41 780.28 L1120.65 780.22 L1121.90 780.16 L1123.14 780.10 L1124.39 780.04 L1125.63 779.99 L1126.88 779.93 L1128.13 779.87 L1129.37 779.81 L1130.62 779.76 L1131.86 779.70 L1133.11 779.64 L1134.36 779.59 L1135.60 779.53 L1136.85 779.47 L1138.09 779.41 L1139.34 779.36 L1140.58 779.30 L1141.83 779.24 L1143.08 779.19 L1144.32 779.13 L1145.57 779.07 L1146.81 779.02 L1148.06 778.96 L1149.30 778.91 L1150.55 778.85 L1151.80 778.79 L1153.04 778.74 L1154.29 778.68 L1155.53 778.63 L1156.78 778.57 L1158.03 778.51 L1159.27 778.46 L1160.52 778.40 L1161.76 778.35 L1163.01 778.29 L1164.25 778.24 L1165.50 778.18 L1166.75 778.13 L1167.99 778.07 L1169.24 778.02 L1170.48 777.96 L1171.73 777.91 L1172.97 777.85 L1174.22 777.80 L1175.47 777.74 L1176.71 777.69 L1177.96 777.63 L1179.20 777.58 L1180.45 777.52 L1181.70 777.47 L1182.94 777.41 L1184.19 777.36 L1185.43 777.31 L1186.68 777.25 L1187.92 777.20 L1189.17 777.14 L1190.42 777.09 L1191.66 777.04 L1192.91 776.98 L1194.15 776.93 L1195.40 776.88 L1196.64 776.82 L1197.89 776.77 L1199.14 776.71 L1200.38 776.66 L1201.63 776.61 L1202.87 776.55 L1204.12 776.50 L1205.36 776.45 L1206.61 776.40 L1207.86 776.34 L1209.10 776.29 L1210.35 776.24 L1211.59 776.18 L1212.84 776.13 L1214.09 776.08 L1215.33 776.03 L1216.58 775.97 L1217.82 775.92 L1219.07 775.87 L1220.31 775.82 L1221.56 775.76 L1222.81 775.71 L1224.05 775.66 L1225.30 775.61 L1226.54 775.56 L1227.79 775.50 L1229.03 775.45 L1230.28 775.40 L1231.53 775.35 L1232.77 775.30 L1234.02 775.24 L1235.26 775.19 L1236.51 775.14 L1237.76 775.09 L1239.00 775.04 L1240.25 774.99 L1241.49 774.94 L1242.74 774.88 L1243.98 774.83 L1245.23 774.78 L1246.48 774.73 L1247.72 774.68 L1248.97 774.63 L1250.21 774.58 L1251.46 774.53 L1252.70 774.48 L1253.95 774.43 L1255.20 774.38 L1256.44 774.32 L1257.69 774.27 L1258.93 774.22 L1260.18 774.17 L1261.43 774.12 L1262.67 774.07 L1263.92 774.02 L1265.16 773.97 L1266.41 773.92 L1267.65 773.87 L1268.90 773.82 L1270.15 773.77 L1271.39 773.72 L1272.64 773.67 L1273.88 773.62 L1275.13 773.57 L1276.37 773.52 L1277.62 773.47 L1278.87 773.42 L1280.11 773.38 L1281.36 773.33 L1282.60 773.28 L1283.85 773.23 L1285.09 773.18 L1286.34 773.13 L1287.59 773.08 L1288.83 773.03 L1290.08 772.98 L1291.32 772.93 L1292.57 772.88 L1293.82 772.83 L1295.06 772.79 L1296.31 772.74 L1297.55 772.69 L1298.80 772.64 L1300.04 772.59 L1301.29 772.54 L1302.54 772.49 L1303.78 772.45 L1305.03 772.40 L1306.27 772.35 L1307.52 772.30 L1308.76 772.25 L1310.01 772.20 L1311.26 772.16 L1312.50 772.11 L1313.75 772.06 L1314.99 772.01 L1316.24 771.96 L1317.49 771.92 L1318.73 771.87 L1319.98 771.82 L1321.22 771.77 L1322.47 771.73 L1323.71 771.68 L1324.96 771.63 L1326.21 771.58 L1327.45 771.54 L1328.70 771.49 L1329.94 771.44 L1331.19 771.39 L1332.43 771.35 L1333.68 771.30 L1334.93 771.25 L1336.17 771.21 L1337.42 771.16 L1338.66 771.11 L1339.91 771.06 L1341.15 771.02 L1342.40 770.97 L1343.65 770.92 L1344.89 770.88 L1346.14 770.83 L1347.38 770.78 L1348.63 770.74 L1349.88 770.69 L1351.12 770.65 L1352.37 770.60 L1353.61 770.55 L1354.86 770.51 L1356.10 770.46 L1357.35 770.41 L1358.60 770.37 L1359.84 770.32 L1361.09 770.28 L1362.33 770.23 L1363.58 770.18 L1364.82 770.14 L1366.07 770.09 L1367.32 770.05 L1368.56 770.00 L1369.81 769.95 L1371.05 769.91 L1372.30 769.86 L1373.55 769.82 L1374.79 769.77 L1376.04 769.73 L1377.28 769.68 L1378.53 769.64 L1379.77 769.59 L1381.02 769.55 L1382.27 769.50 L1383.51 769.45 L1384.76 769.41 L1386.00 769.36 L1387.25 769.32 L1388.49 769.27 L1389.74 769.23 L1390.99 769.18 L1392.23 769.14 L1393.48 769.10 L1394.72 769.05 L1395.97 769.01 L1397.22 768.96 L1398.46 768.92 L1399.71 768.87 L1400.95 768.83 L1402.20 768.78 L1403.44 768.74 L1404.69 768.69 L1405.94 768.65 L1407.18 768.61 L1408.43 768.56 L1409.67 768.52 L1410.92 768.47 L1412.16 768.43 L1413.41 768.38 L1414.66 768.34 L1415.90 768.30 L1417.15 768.25 L1418.39 768.21 L1419.64 768.16 L1420.88 768.12 L1422.13 768.08 L1423.38 768.03 L1424.62 767.99 L1425.87 767.95 L1427.11 767.90 L1428.36 767.86 L1429.61 767.82 L1430.85 767.77 L1432.10 767.73 L1433.34 767.69 L1434.59 767.64 L1435.83 767.60 L1437.08 767.56" stroke="#0000ff" stroke-width="6.5" fill="none" stroke-linecap="round" stroke-dasharray="3 39.5" stroke-dashoffset="-2.5"/>
<path d="M155.0 36.5H1577.0" stroke="#c4c4c4" stroke-width="3"/>
<path d="M158.0 42.5H1574.0" stroke="#d8d8d8" stroke-width="3"/>
<path d="M153.5 39.5V1181.3" stroke="#ececec" stroke-width="3"/>
<path d="M159.5 41.0V1179.8" stroke="#b0b0b0" stroke-width="3"/>
<path d="M1572.5 41.0V1179.8" stroke="#d4d4d4" stroke-width="3"/>
<path d="M1578.5 38.0V1182.8" stroke="#c0c0c0" stroke-width="3"/>
<path d="M158.0 1178.3H1574.0" stroke="#8c8c8c" stroke-width="3"/>
<rect x="156.5" y="39.5" width="1419.0" height="1141.8" fill="none" stroke="#000" stroke-width="3"/>
<path d="M188.6 1178.3V1158.3 M275.1 1178.3V1169.3 M361.6 1178.3V1158.3 M448.1 1178.3V1169.3 M534.6 1178.3V1158.3 M621.2 1178.3V1169.3 M707.7 1178.3V1158.3 M794.2 1178.3V1169.3 M880.7 1178.3V1158.3 M967.2 1178.3V1169.3 M1053.7 1178.3V1158.3 M1140.2 1178.3V1169.3 M1226.8 1178.3V1158.3 M1313.3 1178.3V1169.3 M1399.8 1178.3V1158.3 M1486.3 1178.3V1169.3 M158.0 1115.7H179.0 M158.0 981.5H168.0 M158.0 847.2H179.0 M158.0 713.0H168.0 M158.0 578.7H179.0 M158.0 444.4H168.0 M158.0 310.2H179.0 M158.0 175.9H168.0" stroke="#9a9a9a" stroke-width="2.4" fill="none"/>
<path d="M191.3 1181.3V1159.3 M277.8 1181.3V1170.3 M364.3 1181.3V1159.3 M450.8 1181.3V1170.3 M537.4 1181.3V1159.3 M623.9 1181.3V1170.3 M710.4 1181.3V1159.3 M796.9 1181.3V1170.3 M883.4 1181.3V1159.3 M969.9 1181.3V1170.3 M1056.4 1181.3V1159.3 M1142.9 1181.3V1170.3 M1229.5 1181.3V1159.3 M1316.0 1181.3V1170.3 M1402.5 1181.3V1159.3 M1489.0 1181.3V1170.3 M156.5 1113.5H178.5 M156.5 979.2H167.5 M156.5 845.0H178.5 M156.5 710.8H167.5 M156.5 576.5H178.5 M156.5 442.2H167.5 M156.5 308.0H178.5 M156.5 173.8H167.5" stroke="#000" stroke-width="3" fill="none"/>
<g font-family="&apos;Liberation Serif&apos;, serif" stroke="#fff" stroke-width="1.0" font-size="68" fill="#000">
<text transform="translate(132.3 1133.1) scale(0.975 1)" text-anchor="end">0</text>
<text transform="translate(132.3 864.6) scale(0.975 1)" text-anchor="end">2</text>
<text transform="translate(132.3 596.1) scale(0.975 1)" text-anchor="end">4</text>
<text transform="translate(132.3 327.6) scale(0.975 1)" text-anchor="end">6</text>
<text transform="translate(132.3 59.1) scale(0.975 1)" text-anchor="end">8</text>
</g>
<g font-family="&apos;Liberation Serif&apos;, serif" stroke="#fff" stroke-width="1.0" font-size="67" fill="#000">
<text transform="translate(191.5 1255) scale(0.97 1)" text-anchor="middle">0</text>
<text transform="translate(365.2 1255) scale(0.97 1)" text-anchor="middle">50</text>
<text transform="translate(539.5 1255) scale(0.94 1)" text-anchor="middle">100</text>
<text transform="translate(713.2 1255) scale(0.94 1)" text-anchor="middle">150</text>
<text transform="translate(883.3 1255) scale(0.97 1)" text-anchor="middle">200</text>
<text transform="translate(1056.2 1255) scale(0.97 1)" text-anchor="middle">250</text>
<text transform="translate(1229.1 1255) scale(0.97 1)" text-anchor="middle">300</text>
<text transform="translate(1402.0 1255) scale(0.97 1)" text-anchor="middle">350</text>
<text transform="translate(1574.0 1255) scale(0.97 1)" text-anchor="middle">400</text>
</g>
<text font-family="&apos;Liberation Serif&apos;, serif" stroke="#fff" stroke-width="1.0" font-size="71" transform="translate(866.3 1346) scale(0.995 1)" text-anchor="middle">Time (min)</text>
<text font-family="&apos;Liberation Serif&apos;, serif" stroke="#fff" stroke-width="1.0" font-size="71" transform="translate(65.0 609.8) rotate(-90) scale(0.990 1)" text-anchor="middle">Adsorption capacity (mg/g)</text>
<circle cx="715.5" cy="400.2" r="15" fill="#c00000"/>
<path d="M714.5 452.2L732.5 483.7L696.5 483.7Z" fill="#0000c8"/>
<path d="M646 545.8H783" stroke="#333" stroke-width="4.5"/>
<path d="M647 619.3H785" stroke="#ff0000" stroke-width="4.5" stroke-dasharray="28 29.5"/>
<path d="M647 691.6H785" stroke="#0000ff" stroke-width="6.5" stroke-linecap="round" stroke-dasharray="3 39.5" stroke-dashoffset="-2.5"/>
<g font-family="&apos;Liberation Serif&apos;, serif" stroke="#fff" stroke-width="0.5" font-size="60" fill="#000">
<text transform="translate(795.5 420) scale(0.99 1)">SDMBC600</text>
<text transform="translate(795.5 493) scale(0.99 1)">SDBC600</text>
<text transform="translate(796 565.8) scale(0.986 1)">Pseudo-first-order model</text>
<text transform="translate(796 639.2) scale(0.99 1)">Pseudo-second-order model</text>
<text transform="translate(796 712.2) scale(0.99 1)">Elovich model</text>
</g>
</g>
</svg>
</body></html>
